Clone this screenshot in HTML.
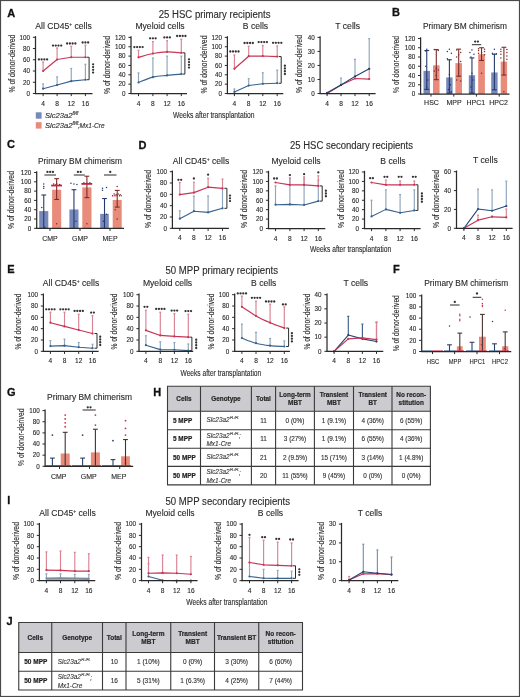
<!DOCTYPE html>
<html><head><meta charset="utf-8"><title>Figure</title>
<style>
html,body{margin:0;padding:0;background:#fff;}
body{width:520px;height:697px;overflow:hidden;}
svg{display:block;filter:blur(0.3px);font-family:"Liberation Sans", sans-serif;fill:#2a2a2a;}
text:not([stroke]){stroke:#2a2a2a;stroke-width:0.12px;}
</style></head><body>
<svg width="520" height="697" viewBox="0 0 520 697">
<rect x="0.5" y="0.5" width="519" height="696" fill="none" stroke="#4a4a4a" stroke-width="1.2"/>
<text x="7.2" y="16.6" font-size="11" font-weight="bold" fill="#111" stroke="#111" stroke-width="0.3">A</text>
<text x="392.1" y="16.3" font-size="11" font-weight="bold" fill="#111" stroke="#111" stroke-width="0.3">B</text>
<text x="7" y="148.4" font-size="11" font-weight="bold" fill="#111" stroke="#111" stroke-width="0.3">C</text>
<text x="138.4" y="148.5" font-size="11" font-weight="bold" fill="#111" stroke="#111" stroke-width="0.3">D</text>
<text x="7.2" y="272.7" font-size="11" font-weight="bold" fill="#111" stroke="#111" stroke-width="0.3">E</text>
<text x="393" y="272.6" font-size="11" font-weight="bold" fill="#111" stroke="#111" stroke-width="0.3">F</text>
<text x="7" y="395.5" font-size="11" font-weight="bold" fill="#111" stroke="#111" stroke-width="0.3">G</text>
<text x="153.2" y="396.2" font-size="11" font-weight="bold" fill="#111" stroke="#111" stroke-width="0.3">H</text>
<text x="7.2" y="504.2" font-size="11" font-weight="bold" fill="#111" stroke="#111" stroke-width="0.3">I</text>
<text x="6.6" y="625.4" font-size="11" font-weight="bold" fill="#111" stroke="#111" stroke-width="0.3">J</text>
<text x="158.75" y="17.8" font-size="10" textLength="111.75" lengthAdjust="spacingAndGlyphs">25 HSC primary recipients</text>
<text x="173" y="118.3" font-size="8.6" textLength="81.5" lengthAdjust="spacingAndGlyphs">Weeks after transplantation</text>
<text x="290" y="148.9" font-size="10" textLength="123" lengthAdjust="spacingAndGlyphs">25 HSC secondary recipients</text>
<text x="310" y="252" font-size="8.6" textLength="81.25" lengthAdjust="spacingAndGlyphs">Weeks after transplantation</text>
<text x="165.5" y="274.1" font-size="10" textLength="112.5" lengthAdjust="spacingAndGlyphs">50 MPP primary recipients</text>
<text x="180.5" y="375.8" font-size="8.6" textLength="80.75" lengthAdjust="spacingAndGlyphs">Weeks after transplantation</text>
<text x="165.5" y="504.6" font-size="10" textLength="124.5" lengthAdjust="spacingAndGlyphs">50 MPP secondary recipients</text>
<text x="186.25" y="604.5" font-size="8.6" textLength="81.25" lengthAdjust="spacingAndGlyphs">Weeks after transplantation</text>
<rect x="35.8" y="112.3" width="5.8" height="6.4" fill="#7788bb"/>
<rect x="35.8" y="122.2" width="5.8" height="6.4" fill="#e98b7b"/>
<text x="45" y="118.3" font-size="7.6" font-style="italic">Slc23a2<tspan font-size="4.6" dy="-3.2">fl/fl</tspan></text>
<text x="45" y="128" font-size="7.6" font-style="italic">Slc23a2<tspan font-size="4.6" dy="-3.2">fl/fl</tspan></text>
<text x="77.7" y="128" font-size="7.6" font-style="italic" textLength="27" lengthAdjust="spacingAndGlyphs">;Mx1-Cre</text>
<line x1="43.1" y1="88.72" x2="43.1" y2="83.95" stroke="#8fa5bb" stroke-width="1.15"/>
<line x1="42.1" y1="83.95" x2="44.1" y2="83.95" stroke="#8fa5bb" stroke-width="1.2"/>
<line x1="57.1" y1="85.07" x2="57.1" y2="76.92" stroke="#8fa5bb" stroke-width="1.15"/>
<line x1="56.1" y1="76.92" x2="58.1" y2="76.92" stroke="#8fa5bb" stroke-width="1.2"/>
<line x1="71.25" y1="81.14" x2="71.25" y2="68.49" stroke="#8fa5bb" stroke-width="1.15"/>
<line x1="70.25" y1="68.49" x2="72.25" y2="68.49" stroke="#8fa5bb" stroke-width="1.2"/>
<line x1="85.4" y1="79.73" x2="85.4" y2="64.28" stroke="#8fa5bb" stroke-width="1.15"/>
<line x1="84.4" y1="64.28" x2="86.4" y2="64.28" stroke="#8fa5bb" stroke-width="1.2"/>
<line x1="43.1" y1="71.02" x2="43.1" y2="62.03" stroke="#d98393" stroke-width="1.15"/>
<line x1="42.1" y1="62.03" x2="44.1" y2="62.03" stroke="#d98393" stroke-width="1.2"/>
<line x1="57.1" y1="59.5" x2="57.1" y2="47.98" stroke="#d98393" stroke-width="1.15"/>
<line x1="56.1" y1="47.98" x2="58.1" y2="47.98" stroke="#d98393" stroke-width="1.2"/>
<line x1="71.25" y1="57.25" x2="71.25" y2="46.29" stroke="#d98393" stroke-width="1.15"/>
<line x1="70.25" y1="46.29" x2="72.25" y2="46.29" stroke="#d98393" stroke-width="1.2"/>
<line x1="85.4" y1="57.25" x2="85.4" y2="45.17" stroke="#d98393" stroke-width="1.15"/>
<line x1="84.4" y1="45.17" x2="86.4" y2="45.17" stroke="#d98393" stroke-width="1.2"/>
<path d="M43.1 88.72 L57.1 85.07 L71.25 81.14 L85.4 79.73" fill="none" stroke="#39628c" stroke-width="1.1" stroke-linejoin="round"/>
<circle cx="43.1" cy="88.72" r="1.1" fill="#39628c"/>
<circle cx="57.1" cy="85.07" r="1.1" fill="#39628c"/>
<circle cx="71.25" cy="81.14" r="1.1" fill="#39628c"/>
<circle cx="85.4" cy="79.73" r="1.1" fill="#39628c"/>
<path d="M43.1 71.02 L57.1 59.5 L71.25 57.25 L85.4 57.25" fill="none" stroke="#c83556" stroke-width="1.2" stroke-linejoin="round"/>
<circle cx="43.1" cy="71.02" r="1.1" fill="#c83556"/>
<circle cx="57.1" cy="59.5" r="1.1" fill="#c83556"/>
<circle cx="71.25" cy="57.25" r="1.1" fill="#c83556"/>
<circle cx="85.4" cy="57.25" r="1.1" fill="#c83556"/>
<line x1="35.5" y1="36.1" x2="35.5" y2="94.1" stroke="#2a2a2a" stroke-width="1.25"/>
<line x1="34.9" y1="93.5" x2="92.5" y2="93.5" stroke="#2a2a2a" stroke-width="1.25"/>
<line x1="32.9" y1="93.5" x2="35.5" y2="93.5" stroke="#2a2a2a" stroke-width="1"/>
<text x="30.1" y="95.75" font-size="6.3" text-anchor="end">0</text>
<line x1="32.9" y1="82.26" x2="35.5" y2="82.26" stroke="#2a2a2a" stroke-width="1"/>
<text x="30.1" y="84.51" font-size="6.3" text-anchor="end">20</text>
<line x1="32.9" y1="71.02" x2="35.5" y2="71.02" stroke="#2a2a2a" stroke-width="1"/>
<text x="30.1" y="73.27" font-size="6.3" text-anchor="end">40</text>
<line x1="32.9" y1="59.78" x2="35.5" y2="59.78" stroke="#2a2a2a" stroke-width="1"/>
<text x="30.1" y="62.03" font-size="6.3" text-anchor="end">60</text>
<line x1="32.9" y1="48.54" x2="35.5" y2="48.54" stroke="#2a2a2a" stroke-width="1"/>
<text x="30.1" y="50.79" font-size="6.3" text-anchor="end">80</text>
<line x1="32.9" y1="37.3" x2="35.5" y2="37.3" stroke="#2a2a2a" stroke-width="1"/>
<text x="30.1" y="39.55" font-size="6.3" text-anchor="end">100</text>
<line x1="43.1" y1="93.5" x2="43.1" y2="96.1" stroke="#2a2a2a" stroke-width="1"/>
<text x="43.1" y="105.5" font-size="6.6" text-anchor="middle">4</text>
<line x1="57.1" y1="93.5" x2="57.1" y2="96.1" stroke="#2a2a2a" stroke-width="1"/>
<text x="57.1" y="105.5" font-size="6.6" text-anchor="middle">8</text>
<line x1="71.25" y1="93.5" x2="71.25" y2="96.1" stroke="#2a2a2a" stroke-width="1"/>
<text x="71.25" y="105.5" font-size="6.6" text-anchor="middle">12</text>
<line x1="85.4" y1="93.5" x2="85.4" y2="96.1" stroke="#2a2a2a" stroke-width="1"/>
<text x="85.4" y="105.5" font-size="6.6" text-anchor="middle">16</text>
<circle cx="38.88" cy="59.4" r="1.15" fill="#333"/>
<circle cx="41.62" cy="59.4" r="1.15" fill="#333"/>
<circle cx="44.38" cy="59.4" r="1.15" fill="#333"/>
<circle cx="47.12" cy="59.4" r="1.15" fill="#333"/>
<circle cx="52.98" cy="45.6" r="1.15" fill="#333"/>
<circle cx="55.73" cy="45.6" r="1.15" fill="#333"/>
<circle cx="58.48" cy="45.6" r="1.15" fill="#333"/>
<circle cx="61.23" cy="45.6" r="1.15" fill="#333"/>
<circle cx="67.12" cy="43.5" r="1.15" fill="#333"/>
<circle cx="69.88" cy="43.5" r="1.15" fill="#333"/>
<circle cx="72.62" cy="43.5" r="1.15" fill="#333"/>
<circle cx="75.38" cy="43.5" r="1.15" fill="#333"/>
<circle cx="82.65" cy="42.5" r="1.15" fill="#333"/>
<circle cx="85.4" cy="42.5" r="1.15" fill="#333"/>
<circle cx="88.15" cy="42.5" r="1.15" fill="#333"/>
<line x1="89.1" y1="57.25" x2="89.1" y2="79.73" stroke="#2a2a2a" stroke-width="1"/>
<line x1="86.6" y1="57.25" x2="89.1" y2="57.25" stroke="#2a2a2a" stroke-width="1"/>
<line x1="86.6" y1="79.73" x2="89.1" y2="79.73" stroke="#2a2a2a" stroke-width="1"/>
<circle cx="93.1" cy="64.37" r="1.15" fill="#333"/>
<circle cx="93.1" cy="67.12" r="1.15" fill="#333"/>
<circle cx="93.1" cy="69.87" r="1.15" fill="#333"/>
<circle cx="93.1" cy="72.62" r="1.15" fill="#333"/>
<text x="63.5" y="29.3" font-size="8.6" text-anchor="middle">All CD45<tspan font-size="5" dy="-3">+</tspan><tspan dy="3"> cells</tspan></text>
<text x="14.6" y="63.6" font-size="9" text-anchor="middle" textLength="58" lengthAdjust="spacingAndGlyphs" transform="rotate(-90 14.6 63.6)">% of donor-derived</text>
<line x1="138.5" y1="82.51" x2="138.5" y2="72.93" stroke="#8fa5bb" stroke-width="1.15"/>
<line x1="137.5" y1="72.93" x2="139.5" y2="72.93" stroke="#8fa5bb" stroke-width="1.2"/>
<line x1="152.9" y1="77.14" x2="152.9" y2="57.97" stroke="#8fa5bb" stroke-width="1.15"/>
<line x1="151.9" y1="57.97" x2="153.9" y2="57.97" stroke="#8fa5bb" stroke-width="1.2"/>
<line x1="167.1" y1="75.41" x2="167.1" y2="56.1" stroke="#8fa5bb" stroke-width="1.15"/>
<line x1="166.1" y1="56.1" x2="168.1" y2="56.1" stroke="#8fa5bb" stroke-width="1.2"/>
<line x1="181.3" y1="74.1" x2="181.3" y2="56.1" stroke="#8fa5bb" stroke-width="1.15"/>
<line x1="180.3" y1="56.1" x2="182.3" y2="56.1" stroke="#8fa5bb" stroke-width="1.2"/>
<line x1="138.5" y1="57.32" x2="138.5" y2="50.21" stroke="#d98393" stroke-width="1.15"/>
<line x1="137.5" y1="50.21" x2="139.5" y2="50.21" stroke="#d98393" stroke-width="1.2"/>
<line x1="152.9" y1="53.53" x2="152.9" y2="41.61" stroke="#d98393" stroke-width="1.15"/>
<line x1="151.9" y1="41.61" x2="153.9" y2="41.61" stroke="#d98393" stroke-width="1.2"/>
<line x1="167.1" y1="51.89" x2="167.1" y2="40.67" stroke="#d98393" stroke-width="1.15"/>
<line x1="166.1" y1="40.67" x2="168.1" y2="40.67" stroke="#d98393" stroke-width="1.2"/>
<line x1="181.3" y1="52.83" x2="181.3" y2="39.27" stroke="#d98393" stroke-width="1.15"/>
<line x1="180.3" y1="39.27" x2="182.3" y2="39.27" stroke="#d98393" stroke-width="1.2"/>
<path d="M138.5 82.51 C140.9 81.62 148.13 78.32 152.9 77.14 C157.67 75.95 162.37 75.91 167.1 75.41 C171.83 74.9 178.93 74.32 181.3 74.1" fill="none" stroke="#39628c" stroke-width="1.1" stroke-linejoin="round"/>
<circle cx="138.5" cy="82.51" r="1.1" fill="#39628c"/>
<circle cx="152.9" cy="77.14" r="1.1" fill="#39628c"/>
<circle cx="167.1" cy="75.41" r="1.1" fill="#39628c"/>
<circle cx="181.3" cy="74.1" r="1.1" fill="#39628c"/>
<path d="M138.5 57.32 C140.9 56.68 148.13 54.43 152.9 53.53 C157.67 52.62 162.37 52.01 167.1 51.89 C171.83 51.78 178.93 52.67 181.3 52.83" fill="none" stroke="#c83556" stroke-width="1.2" stroke-linejoin="round"/>
<circle cx="138.5" cy="57.32" r="1.1" fill="#c83556"/>
<circle cx="152.9" cy="53.53" r="1.1" fill="#c83556"/>
<circle cx="167.1" cy="51.89" r="1.1" fill="#c83556"/>
<circle cx="181.3" cy="52.83" r="1.1" fill="#c83556"/>
<line x1="131" y1="36.2" x2="131" y2="94.1" stroke="#2a2a2a" stroke-width="1.25"/>
<line x1="130.4" y1="93.5" x2="187" y2="93.5" stroke="#2a2a2a" stroke-width="1.25"/>
<line x1="128.4" y1="93.5" x2="131" y2="93.5" stroke="#2a2a2a" stroke-width="1"/>
<text x="125.6" y="95.75" font-size="6.3" text-anchor="end">0</text>
<line x1="128.4" y1="84.15" x2="131" y2="84.15" stroke="#2a2a2a" stroke-width="1"/>
<text x="125.6" y="86.4" font-size="6.3" text-anchor="end">20</text>
<line x1="128.4" y1="74.8" x2="131" y2="74.8" stroke="#2a2a2a" stroke-width="1"/>
<text x="125.6" y="77.05" font-size="6.3" text-anchor="end">40</text>
<line x1="128.4" y1="65.45" x2="131" y2="65.45" stroke="#2a2a2a" stroke-width="1"/>
<text x="125.6" y="67.7" font-size="6.3" text-anchor="end">60</text>
<line x1="128.4" y1="56.1" x2="131" y2="56.1" stroke="#2a2a2a" stroke-width="1"/>
<text x="125.6" y="58.35" font-size="6.3" text-anchor="end">80</text>
<line x1="128.4" y1="46.75" x2="131" y2="46.75" stroke="#2a2a2a" stroke-width="1"/>
<text x="125.6" y="49" font-size="6.3" text-anchor="end">100</text>
<line x1="128.4" y1="37.4" x2="131" y2="37.4" stroke="#2a2a2a" stroke-width="1"/>
<text x="125.6" y="39.65" font-size="6.3" text-anchor="end">120</text>
<line x1="138.5" y1="93.5" x2="138.5" y2="96.1" stroke="#2a2a2a" stroke-width="1"/>
<text x="138.5" y="105.5" font-size="6.6" text-anchor="middle">4</text>
<line x1="152.9" y1="93.5" x2="152.9" y2="96.1" stroke="#2a2a2a" stroke-width="1"/>
<text x="152.9" y="105.5" font-size="6.6" text-anchor="middle">8</text>
<line x1="167.1" y1="93.5" x2="167.1" y2="96.1" stroke="#2a2a2a" stroke-width="1"/>
<text x="167.1" y="105.5" font-size="6.6" text-anchor="middle">12</text>
<line x1="181.3" y1="93.5" x2="181.3" y2="96.1" stroke="#2a2a2a" stroke-width="1"/>
<text x="181.3" y="105.5" font-size="6.6" text-anchor="middle">16</text>
<circle cx="134.38" cy="47.1" r="1.15" fill="#333"/>
<circle cx="137.12" cy="47.1" r="1.15" fill="#333"/>
<circle cx="139.88" cy="47.1" r="1.15" fill="#333"/>
<circle cx="142.62" cy="47.1" r="1.15" fill="#333"/>
<circle cx="150.15" cy="38.3" r="1.15" fill="#333"/>
<circle cx="152.9" cy="38.3" r="1.15" fill="#333"/>
<circle cx="155.65" cy="38.3" r="1.15" fill="#333"/>
<circle cx="164.35" cy="37.4" r="1.15" fill="#333"/>
<circle cx="167.1" cy="37.4" r="1.15" fill="#333"/>
<circle cx="169.85" cy="37.4" r="1.15" fill="#333"/>
<circle cx="177.18" cy="36" r="1.15" fill="#333"/>
<circle cx="179.93" cy="36" r="1.15" fill="#333"/>
<circle cx="182.68" cy="36" r="1.15" fill="#333"/>
<circle cx="185.43" cy="36" r="1.15" fill="#333"/>
<line x1="184.9" y1="52.83" x2="184.9" y2="74.1" stroke="#2a2a2a" stroke-width="1"/>
<line x1="182.4" y1="52.83" x2="184.9" y2="52.83" stroke="#2a2a2a" stroke-width="1"/>
<line x1="182.4" y1="74.1" x2="184.9" y2="74.1" stroke="#2a2a2a" stroke-width="1"/>
<circle cx="189" cy="59.34" r="1.15" fill="#333"/>
<circle cx="189" cy="62.09" r="1.15" fill="#333"/>
<circle cx="189" cy="64.84" r="1.15" fill="#333"/>
<circle cx="189" cy="67.59" r="1.15" fill="#333"/>
<text x="160" y="29.3" font-size="8.6" text-anchor="middle">Myeloid cells</text>
<text x="110.1" y="65" font-size="9" text-anchor="middle" textLength="58" lengthAdjust="spacingAndGlyphs" transform="rotate(-90 110.1 65)">% of donor-derived</text>
<line x1="234.4" y1="91.91" x2="234.4" y2="89.01" stroke="#8fa5bb" stroke-width="1.15"/>
<line x1="233.4" y1="89.01" x2="235.4" y2="89.01" stroke="#8fa5bb" stroke-width="1.2"/>
<line x1="248.7" y1="85.55" x2="248.7" y2="78.68" stroke="#8fa5bb" stroke-width="1.15"/>
<line x1="247.7" y1="78.68" x2="249.7" y2="78.68" stroke="#8fa5bb" stroke-width="1.2"/>
<line x1="262.8" y1="83.78" x2="262.8" y2="72.79" stroke="#8fa5bb" stroke-width="1.15"/>
<line x1="261.8" y1="72.79" x2="263.8" y2="72.79" stroke="#8fa5bb" stroke-width="1.2"/>
<line x1="277.2" y1="83.22" x2="277.2" y2="70.12" stroke="#8fa5bb" stroke-width="1.15"/>
<line x1="276.2" y1="70.12" x2="278.2" y2="70.12" stroke="#8fa5bb" stroke-width="1.2"/>
<line x1="234.4" y1="68.82" x2="234.4" y2="54.88" stroke="#d98393" stroke-width="1.15"/>
<line x1="233.4" y1="54.88" x2="235.4" y2="54.88" stroke="#d98393" stroke-width="1.2"/>
<line x1="248.7" y1="56.19" x2="248.7" y2="46.28" stroke="#d98393" stroke-width="1.15"/>
<line x1="247.7" y1="46.28" x2="249.7" y2="46.28" stroke="#d98393" stroke-width="1.2"/>
<line x1="262.8" y1="56.01" x2="262.8" y2="45.49" stroke="#d98393" stroke-width="1.15"/>
<line x1="261.8" y1="45.49" x2="263.8" y2="45.49" stroke="#d98393" stroke-width="1.2"/>
<line x1="277.2" y1="56.57" x2="277.2" y2="45.91" stroke="#d98393" stroke-width="1.15"/>
<line x1="276.2" y1="45.91" x2="278.2" y2="45.91" stroke="#d98393" stroke-width="1.2"/>
<path d="M234.4 91.91 L248.7 85.55 L262.8 83.78 L277.2 83.22" fill="none" stroke="#39628c" stroke-width="1.1" stroke-linejoin="round"/>
<circle cx="234.4" cy="91.91" r="1.1" fill="#39628c"/>
<circle cx="248.7" cy="85.55" r="1.1" fill="#39628c"/>
<circle cx="262.8" cy="83.78" r="1.1" fill="#39628c"/>
<circle cx="277.2" cy="83.22" r="1.1" fill="#39628c"/>
<path d="M234.4 68.82 L248.7 56.19 L262.8 56.01 L277.2 56.57" fill="none" stroke="#c83556" stroke-width="1.2" stroke-linejoin="round"/>
<circle cx="234.4" cy="68.82" r="1.1" fill="#c83556"/>
<circle cx="248.7" cy="56.19" r="1.1" fill="#c83556"/>
<circle cx="262.8" cy="56.01" r="1.1" fill="#c83556"/>
<circle cx="277.2" cy="56.57" r="1.1" fill="#c83556"/>
<line x1="227.4" y1="36.2" x2="227.4" y2="94.1" stroke="#2a2a2a" stroke-width="1.25"/>
<line x1="226.8" y1="93.5" x2="283.3" y2="93.5" stroke="#2a2a2a" stroke-width="1.25"/>
<line x1="224.8" y1="93.5" x2="227.4" y2="93.5" stroke="#2a2a2a" stroke-width="1"/>
<text x="222" y="95.75" font-size="6.3" text-anchor="end">0</text>
<line x1="224.8" y1="84.15" x2="227.4" y2="84.15" stroke="#2a2a2a" stroke-width="1"/>
<text x="222" y="86.4" font-size="6.3" text-anchor="end">20</text>
<line x1="224.8" y1="74.8" x2="227.4" y2="74.8" stroke="#2a2a2a" stroke-width="1"/>
<text x="222" y="77.05" font-size="6.3" text-anchor="end">40</text>
<line x1="224.8" y1="65.45" x2="227.4" y2="65.45" stroke="#2a2a2a" stroke-width="1"/>
<text x="222" y="67.7" font-size="6.3" text-anchor="end">60</text>
<line x1="224.8" y1="56.1" x2="227.4" y2="56.1" stroke="#2a2a2a" stroke-width="1"/>
<text x="222" y="58.35" font-size="6.3" text-anchor="end">80</text>
<line x1="224.8" y1="46.75" x2="227.4" y2="46.75" stroke="#2a2a2a" stroke-width="1"/>
<text x="222" y="49" font-size="6.3" text-anchor="end">100</text>
<line x1="224.8" y1="37.4" x2="227.4" y2="37.4" stroke="#2a2a2a" stroke-width="1"/>
<text x="222" y="39.65" font-size="6.3" text-anchor="end">120</text>
<line x1="234.4" y1="93.5" x2="234.4" y2="96.1" stroke="#2a2a2a" stroke-width="1"/>
<text x="234.4" y="105.5" font-size="6.6" text-anchor="middle">4</text>
<line x1="248.7" y1="93.5" x2="248.7" y2="96.1" stroke="#2a2a2a" stroke-width="1"/>
<text x="248.7" y="105.5" font-size="6.6" text-anchor="middle">8</text>
<line x1="262.8" y1="93.5" x2="262.8" y2="96.1" stroke="#2a2a2a" stroke-width="1"/>
<text x="262.8" y="105.5" font-size="6.6" text-anchor="middle">12</text>
<line x1="277.2" y1="93.5" x2="277.2" y2="96.1" stroke="#2a2a2a" stroke-width="1"/>
<text x="277.2" y="105.5" font-size="6.6" text-anchor="middle">16</text>
<circle cx="230.28" cy="51.5" r="1.15" fill="#333"/>
<circle cx="233.03" cy="51.5" r="1.15" fill="#333"/>
<circle cx="235.78" cy="51.5" r="1.15" fill="#333"/>
<circle cx="238.53" cy="51.5" r="1.15" fill="#333"/>
<circle cx="244.57" cy="43" r="1.15" fill="#333"/>
<circle cx="247.32" cy="43" r="1.15" fill="#333"/>
<circle cx="250.07" cy="43" r="1.15" fill="#333"/>
<circle cx="252.82" cy="43" r="1.15" fill="#333"/>
<circle cx="258.68" cy="42.1" r="1.15" fill="#333"/>
<circle cx="261.43" cy="42.1" r="1.15" fill="#333"/>
<circle cx="264.18" cy="42.1" r="1.15" fill="#333"/>
<circle cx="266.93" cy="42.1" r="1.15" fill="#333"/>
<circle cx="273.07" cy="42.8" r="1.15" fill="#333"/>
<circle cx="275.82" cy="42.8" r="1.15" fill="#333"/>
<circle cx="278.57" cy="42.8" r="1.15" fill="#333"/>
<circle cx="281.32" cy="42.8" r="1.15" fill="#333"/>
<line x1="281.2" y1="56.57" x2="281.2" y2="83.22" stroke="#2a2a2a" stroke-width="1"/>
<line x1="278.7" y1="56.57" x2="281.2" y2="56.57" stroke="#2a2a2a" stroke-width="1"/>
<line x1="278.7" y1="83.22" x2="281.2" y2="83.22" stroke="#2a2a2a" stroke-width="1"/>
<circle cx="284.9" cy="65.77" r="1.15" fill="#333"/>
<circle cx="284.9" cy="68.52" r="1.15" fill="#333"/>
<circle cx="284.9" cy="71.27" r="1.15" fill="#333"/>
<circle cx="284.9" cy="74.02" r="1.15" fill="#333"/>
<text x="255.5" y="29.3" font-size="8.6" text-anchor="middle">B cells</text>
<text x="206.85" y="64.5" font-size="9" text-anchor="middle" textLength="58" lengthAdjust="spacingAndGlyphs" transform="rotate(-90 206.85 64.5)">% of donor-derived</text>
<line x1="341" y1="84.94" x2="341" y2="78.21" stroke="#8fa5bb" stroke-width="1.15"/>
<line x1="340" y1="78.21" x2="342" y2="78.21" stroke="#8fa5bb" stroke-width="1.2"/>
<line x1="355" y1="76.39" x2="355" y2="59.28" stroke="#8fa5bb" stroke-width="1.15"/>
<line x1="354" y1="59.28" x2="356" y2="59.28" stroke="#8fa5bb" stroke-width="1.2"/>
<line x1="369.2" y1="68.82" x2="369.2" y2="38.66" stroke="#8fa5bb" stroke-width="1.15"/>
<line x1="368.2" y1="38.66" x2="370.2" y2="38.66" stroke="#8fa5bb" stroke-width="1.2"/>
<line x1="369.2" y1="79.05" x2="369.2" y2="68.82" stroke="#d98393" stroke-width="1.15"/>
<line x1="368.2" y1="68.82" x2="370.2" y2="68.82" stroke="#d98393" stroke-width="1.2"/>
<path d="M327.1 93.5 L341 85.08 L355 78.49 L369.2 79.05" fill="none" stroke="#c83556" stroke-width="1.2" stroke-linejoin="round"/>
<circle cx="327.1" cy="93.5" r="1.1" fill="#c83556"/>
<circle cx="341" cy="85.08" r="1.1" fill="#c83556"/>
<circle cx="355" cy="78.49" r="1.1" fill="#c83556"/>
<circle cx="369.2" cy="79.05" r="1.1" fill="#c83556"/>
<path d="M327.1 92.8 L341 84.94 L355 76.39 L369.2 68.82" fill="none" stroke="#223f6e" stroke-width="1.1" stroke-linejoin="round"/>
<circle cx="327.1" cy="92.8" r="1.1" fill="#223f6e"/>
<circle cx="341" cy="84.94" r="1.1" fill="#223f6e"/>
<circle cx="355" cy="76.39" r="1.1" fill="#223f6e"/>
<circle cx="369.2" cy="68.82" r="1.1" fill="#223f6e"/>
<line x1="320.1" y1="36.2" x2="320.1" y2="94.1" stroke="#2a2a2a" stroke-width="1.25"/>
<line x1="319.5" y1="93.5" x2="375.6" y2="93.5" stroke="#2a2a2a" stroke-width="1.25"/>
<line x1="317.5" y1="93.5" x2="320.1" y2="93.5" stroke="#2a2a2a" stroke-width="1"/>
<text x="314.7" y="95.75" font-size="6.3" text-anchor="end">0</text>
<line x1="317.5" y1="79.47" x2="320.1" y2="79.47" stroke="#2a2a2a" stroke-width="1"/>
<text x="314.7" y="81.72" font-size="6.3" text-anchor="end">10</text>
<line x1="317.5" y1="65.45" x2="320.1" y2="65.45" stroke="#2a2a2a" stroke-width="1"/>
<text x="314.7" y="67.7" font-size="6.3" text-anchor="end">20</text>
<line x1="317.5" y1="51.42" x2="320.1" y2="51.42" stroke="#2a2a2a" stroke-width="1"/>
<text x="314.7" y="53.67" font-size="6.3" text-anchor="end">30</text>
<line x1="317.5" y1="37.4" x2="320.1" y2="37.4" stroke="#2a2a2a" stroke-width="1"/>
<text x="314.7" y="39.65" font-size="6.3" text-anchor="end">40</text>
<line x1="327.1" y1="93.5" x2="327.1" y2="96.1" stroke="#2a2a2a" stroke-width="1"/>
<text x="327.1" y="105.5" font-size="6.6" text-anchor="middle">4</text>
<line x1="341" y1="93.5" x2="341" y2="96.1" stroke="#2a2a2a" stroke-width="1"/>
<text x="341" y="105.5" font-size="6.6" text-anchor="middle">8</text>
<line x1="355" y1="93.5" x2="355" y2="96.1" stroke="#2a2a2a" stroke-width="1"/>
<text x="355" y="105.5" font-size="6.6" text-anchor="middle">12</text>
<line x1="369.2" y1="93.5" x2="369.2" y2="96.1" stroke="#2a2a2a" stroke-width="1"/>
<text x="369.2" y="105.5" font-size="6.6" text-anchor="middle">16</text>
<text x="347.7" y="29.3" font-size="8.6" text-anchor="middle">T cells</text>
<text x="301.8" y="64" font-size="9" text-anchor="middle" textLength="58" lengthAdjust="spacingAndGlyphs" transform="rotate(-90 301.8 64)">% of donor-derived</text>
<rect x="423.5" y="70.88" width="6.5" height="23.12" fill="#7788bb"/>
<circle cx="426.75" cy="49.14" r="0.75" fill="#25396a"/>
<circle cx="425.75" cy="50.99" r="0.75" fill="#25396a"/>
<circle cx="427.75" cy="80.12" r="0.75" fill="#25396a"/>
<circle cx="426.75" cy="87.06" r="0.75" fill="#25396a"/>
<circle cx="425.75" cy="66.25" r="0.75" fill="#25396a"/>
<line x1="426.75" y1="89.38" x2="426.75" y2="50.52" stroke="#25396a" stroke-width="1.1"/>
<line x1="424.35" y1="50.52" x2="429.15" y2="50.52" stroke="#25396a" stroke-width="1.1"/>
<line x1="424.35" y1="89.38" x2="429.15" y2="89.38" stroke="#25396a" stroke-width="1.1"/>
<rect x="433" y="65.33" width="6.6" height="28.68" fill="#e98b7b"/>
<circle cx="434.3" cy="49.6" r="0.75" fill="#7c2b2b"/>
<circle cx="438.3" cy="50.52" r="0.75" fill="#7c2b2b"/>
<circle cx="436.3" cy="68.56" r="0.75" fill="#7c2b2b"/>
<circle cx="434.3" cy="70.88" r="0.75" fill="#7c2b2b"/>
<circle cx="438.3" cy="69.95" r="0.75" fill="#7c2b2b"/>
<circle cx="436.3" cy="75.5" r="0.75" fill="#7c2b2b"/>
<line x1="436.3" y1="79.66" x2="436.3" y2="49.6" stroke="#7c2b2b" stroke-width="1.1"/>
<line x1="433.9" y1="49.6" x2="438.7" y2="49.6" stroke="#7c2b2b" stroke-width="1.1"/>
<line x1="433.9" y1="79.66" x2="438.7" y2="79.66" stroke="#7c2b2b" stroke-width="1.1"/>
<rect x="446.2" y="77.44" width="6.4" height="16.56" fill="#7788bb"/>
<circle cx="449.4" cy="49.14" r="0.75" fill="#25396a"/>
<circle cx="447.4" cy="51.45" r="0.75" fill="#25396a"/>
<circle cx="451.4" cy="53.3" r="0.75" fill="#25396a"/>
<circle cx="447.4" cy="58.85" r="0.75" fill="#25396a"/>
<circle cx="449.4" cy="74.58" r="0.75" fill="#25396a"/>
<circle cx="450.4" cy="84.75" r="0.75" fill="#25396a"/>
<circle cx="448.4" cy="89.38" r="0.75" fill="#25396a"/>
<circle cx="451.4" cy="91.69" r="0.75" fill="#25396a"/>
<line x1="449.4" y1="93.08" x2="449.4" y2="59.77" stroke="#25396a" stroke-width="1.1"/>
<line x1="447" y1="59.77" x2="451.8" y2="59.77" stroke="#25396a" stroke-width="1.1"/>
<line x1="447" y1="93.08" x2="451.8" y2="93.08" stroke="#25396a" stroke-width="1.1"/>
<rect x="455.4" y="63.15" width="6.6" height="30.85" fill="#e98b7b"/>
<circle cx="456.7" cy="50.06" r="0.75" fill="#7c2b2b"/>
<circle cx="460.7" cy="52.38" r="0.75" fill="#7c2b2b"/>
<circle cx="458.7" cy="54.69" r="0.75" fill="#7c2b2b"/>
<circle cx="456.7" cy="57" r="0.75" fill="#7c2b2b"/>
<circle cx="460.7" cy="61.62" r="0.75" fill="#7c2b2b"/>
<circle cx="456.7" cy="80.12" r="0.75" fill="#7c2b2b"/>
<circle cx="460.7" cy="81.05" r="0.75" fill="#7c2b2b"/>
<line x1="458.7" y1="76.19" x2="458.7" y2="49.14" stroke="#7c2b2b" stroke-width="1.1"/>
<line x1="456.3" y1="49.14" x2="461.1" y2="49.14" stroke="#7c2b2b" stroke-width="1.1"/>
<line x1="456.3" y1="76.19" x2="461.1" y2="76.19" stroke="#7c2b2b" stroke-width="1.1"/>
<rect x="468.8" y="75.27" width="6.3" height="18.73" fill="#7788bb"/>
<circle cx="471.95" cy="50.06" r="0.75" fill="#25396a"/>
<circle cx="469.95" cy="52.38" r="0.75" fill="#25396a"/>
<circle cx="473.95" cy="54.23" r="0.75" fill="#25396a"/>
<circle cx="470.95" cy="57" r="0.75" fill="#25396a"/>
<circle cx="471.95" cy="73.19" r="0.75" fill="#25396a"/>
<circle cx="472.95" cy="80.12" r="0.75" fill="#25396a"/>
<circle cx="470.95" cy="87.06" r="0.75" fill="#25396a"/>
<line x1="471.95" y1="93.08" x2="471.95" y2="57.92" stroke="#25396a" stroke-width="1.1"/>
<line x1="469.55" y1="57.92" x2="474.35" y2="57.92" stroke="#25396a" stroke-width="1.1"/>
<line x1="469.55" y1="93.08" x2="474.35" y2="93.08" stroke="#25396a" stroke-width="1.1"/>
<rect x="478.2" y="54.23" width="6.7" height="39.77" fill="#e98b7b"/>
<circle cx="478.55" cy="48.67" r="0.75" fill="#7c2b2b"/>
<circle cx="484.55" cy="49.14" r="0.75" fill="#7c2b2b"/>
<circle cx="478.55" cy="50.52" r="0.75" fill="#7c2b2b"/>
<circle cx="484.55" cy="51.45" r="0.75" fill="#7c2b2b"/>
<circle cx="481.55" cy="52.38" r="0.75" fill="#7c2b2b"/>
<circle cx="478.55" cy="53.3" r="0.75" fill="#7c2b2b"/>
<circle cx="484.55" cy="54.69" r="0.75" fill="#7c2b2b"/>
<circle cx="481.55" cy="73.19" r="0.75" fill="#7c2b2b"/>
<line x1="481.55" y1="60.47" x2="481.55" y2="47.75" stroke="#7c2b2b" stroke-width="1.1"/>
<line x1="479.15" y1="47.75" x2="483.95" y2="47.75" stroke="#7c2b2b" stroke-width="1.1"/>
<line x1="479.15" y1="60.47" x2="483.95" y2="60.47" stroke="#7c2b2b" stroke-width="1.1"/>
<rect x="491.2" y="72.45" width="6.4" height="21.55" fill="#7788bb"/>
<circle cx="494.4" cy="49.14" r="0.75" fill="#25396a"/>
<circle cx="492.4" cy="53.3" r="0.75" fill="#25396a"/>
<circle cx="496.4" cy="53.76" r="0.75" fill="#25396a"/>
<circle cx="494.4" cy="54.23" r="0.75" fill="#25396a"/>
<line x1="494.4" y1="89.84" x2="494.4" y2="54.23" stroke="#25396a" stroke-width="1.1"/>
<line x1="492" y1="54.23" x2="496.8" y2="54.23" stroke="#25396a" stroke-width="1.1"/>
<line x1="492" y1="89.84" x2="496.8" y2="89.84" stroke="#25396a" stroke-width="1.1"/>
<rect x="500.7" y="61.62" width="6.4" height="32.38" fill="#e98b7b"/>
<circle cx="500.9" cy="49.14" r="0.75" fill="#7c2b2b"/>
<circle cx="506.9" cy="49.6" r="0.75" fill="#7c2b2b"/>
<circle cx="500.9" cy="51.45" r="0.75" fill="#7c2b2b"/>
<circle cx="506.9" cy="52.38" r="0.75" fill="#7c2b2b"/>
<circle cx="500.9" cy="54.23" r="0.75" fill="#7c2b2b"/>
<circle cx="506.9" cy="56.07" r="0.75" fill="#7c2b2b"/>
<circle cx="500.9" cy="57.92" r="0.75" fill="#7c2b2b"/>
<circle cx="506.9" cy="59.31" r="0.75" fill="#7c2b2b"/>
<circle cx="503.9" cy="91.69" r="0.75" fill="#7c2b2b"/>
<line x1="503.9" y1="75.04" x2="503.9" y2="47.29" stroke="#7c2b2b" stroke-width="1.1"/>
<line x1="501.5" y1="47.29" x2="506.3" y2="47.29" stroke="#7c2b2b" stroke-width="1.1"/>
<line x1="501.5" y1="75.04" x2="506.3" y2="75.04" stroke="#7c2b2b" stroke-width="1.1"/>
<line x1="420.6" y1="37.3" x2="420.6" y2="94.6" stroke="#2a2a2a" stroke-width="1.25"/>
<line x1="420" y1="94" x2="509.5" y2="94" stroke="#2a2a2a" stroke-width="1.25"/>
<line x1="418" y1="94" x2="420.6" y2="94" stroke="#2a2a2a" stroke-width="1"/>
<text x="415.2" y="96.25" font-size="6.3" text-anchor="end">0</text>
<line x1="418" y1="84.75" x2="420.6" y2="84.75" stroke="#2a2a2a" stroke-width="1"/>
<text x="415.2" y="87" font-size="6.3" text-anchor="end">20</text>
<line x1="418" y1="75.5" x2="420.6" y2="75.5" stroke="#2a2a2a" stroke-width="1"/>
<text x="415.2" y="77.75" font-size="6.3" text-anchor="end">40</text>
<line x1="418" y1="66.25" x2="420.6" y2="66.25" stroke="#2a2a2a" stroke-width="1"/>
<text x="415.2" y="68.5" font-size="6.3" text-anchor="end">60</text>
<line x1="418" y1="57" x2="420.6" y2="57" stroke="#2a2a2a" stroke-width="1"/>
<text x="415.2" y="59.25" font-size="6.3" text-anchor="end">80</text>
<line x1="418" y1="47.75" x2="420.6" y2="47.75" stroke="#2a2a2a" stroke-width="1"/>
<text x="415.2" y="50" font-size="6.3" text-anchor="end">100</text>
<line x1="418" y1="38.5" x2="420.6" y2="38.5" stroke="#2a2a2a" stroke-width="1"/>
<text x="415.2" y="40.75" font-size="6.3" text-anchor="end">120</text>
<line x1="431" y1="94" x2="431" y2="96.6" stroke="#2a2a2a" stroke-width="1"/>
<line x1="453.8" y1="94" x2="453.8" y2="96.6" stroke="#2a2a2a" stroke-width="1"/>
<line x1="476.4" y1="94" x2="476.4" y2="96.6" stroke="#2a2a2a" stroke-width="1"/>
<line x1="499.2" y1="94" x2="499.2" y2="96.6" stroke="#2a2a2a" stroke-width="1"/>
<text x="431.5" y="105.2" font-size="7" text-anchor="middle">HSC</text>
<text x="454" y="105.2" font-size="7" text-anchor="middle">MPP</text>
<text x="475.8" y="105.2" font-size="7" text-anchor="middle">HPC1</text>
<text x="498.5" y="105.2" font-size="7" text-anchor="middle">HPC2</text>
<line x1="471.9" y1="44.7" x2="481.2" y2="44.7" stroke="#2a2a2a" stroke-width="1"/>
<circle cx="475.17" cy="41.6" r="1.15" fill="#333"/>
<circle cx="477.92" cy="41.6" r="1.15" fill="#333"/>
<text x="465" y="28.6" font-size="8.6" text-anchor="middle" textLength="84" lengthAdjust="spacingAndGlyphs">Primary BM chimerism</text>
<text x="399.5" y="64.4" font-size="9" text-anchor="middle" textLength="57" lengthAdjust="spacingAndGlyphs" transform="rotate(-90 399.5 64.4)">% of donor-derived</text>
<rect x="39.2" y="211.09" width="9.1" height="17.21" fill="#7788bb"/>
<circle cx="43.75" cy="184.12" r="0.75" fill="#25396a"/>
<circle cx="43.75" cy="186.45" r="0.75" fill="#25396a"/>
<circle cx="43.75" cy="188.31" r="0.75" fill="#25396a"/>
<circle cx="41.75" cy="207.38" r="0.75" fill="#25396a"/>
<circle cx="44.75" cy="227.37" r="0.75" fill="#25396a"/>
<line x1="43.75" y1="228.3" x2="43.75" y2="195.01" stroke="#25396a" stroke-width="1.1"/>
<line x1="41.35" y1="195.01" x2="46.15" y2="195.01" stroke="#25396a" stroke-width="1.1"/>
<rect x="52.1" y="189.71" width="9.1" height="38.6" fill="#e98b7b"/>
<circle cx="53.65" cy="184.12" r="0.75" fill="#7c2b2b"/>
<circle cx="55.65" cy="185.06" r="0.75" fill="#7c2b2b"/>
<circle cx="59.65" cy="184.59" r="0.75" fill="#7c2b2b"/>
<circle cx="56.65" cy="183.66" r="0.75" fill="#7c2b2b"/>
<circle cx="56.65" cy="223.65" r="0.75" fill="#7c2b2b"/>
<line x1="56.65" y1="199.47" x2="56.65" y2="178.68" stroke="#7c2b2b" stroke-width="1.1"/>
<line x1="54.25" y1="178.68" x2="59.05" y2="178.68" stroke="#7c2b2b" stroke-width="1.1"/>
<line x1="54.25" y1="199.47" x2="59.05" y2="199.47" stroke="#7c2b2b" stroke-width="1.1"/>
<rect x="69.4" y="209.47" width="9.1" height="18.83" fill="#7788bb"/>
<circle cx="70.95" cy="183.19" r="0.75" fill="#25396a"/>
<circle cx="73.95" cy="184.12" r="0.75" fill="#25396a"/>
<circle cx="76.95" cy="184.59" r="0.75" fill="#25396a"/>
<circle cx="75.95" cy="221.33" r="0.75" fill="#25396a"/>
<line x1="73.95" y1="228.3" x2="73.95" y2="189.71" stroke="#25396a" stroke-width="1.1"/>
<line x1="71.55" y1="189.71" x2="76.35" y2="189.71" stroke="#25396a" stroke-width="1.1"/>
<rect x="82.3" y="187.38" width="9.2" height="40.92" fill="#e98b7b"/>
<circle cx="83.9" cy="182.73" r="0.75" fill="#7c2b2b"/>
<circle cx="86.9" cy="183.19" r="0.75" fill="#7c2b2b"/>
<circle cx="89.9" cy="182.73" r="0.75" fill="#7c2b2b"/>
<circle cx="86.9" cy="223.65" r="0.75" fill="#7c2b2b"/>
<line x1="86.9" y1="197.61" x2="86.9" y2="176.22" stroke="#7c2b2b" stroke-width="1.1"/>
<line x1="84.5" y1="176.22" x2="89.3" y2="176.22" stroke="#7c2b2b" stroke-width="1.1"/>
<line x1="84.5" y1="197.61" x2="89.3" y2="197.61" stroke="#7c2b2b" stroke-width="1.1"/>
<rect x="100.2" y="213.89" width="8.6" height="14.42" fill="#7788bb"/>
<circle cx="102.5" cy="188.31" r="0.75" fill="#25396a"/>
<circle cx="106.5" cy="187.38" r="0.75" fill="#25396a"/>
<circle cx="102.5" cy="190.17" r="0.75" fill="#25396a"/>
<circle cx="106.5" cy="214.35" r="0.75" fill="#25396a"/>
<circle cx="103.5" cy="221.33" r="0.75" fill="#25396a"/>
<line x1="104.5" y1="228.3" x2="104.5" y2="198.54" stroke="#25396a" stroke-width="1.1"/>
<line x1="102.1" y1="198.54" x2="106.9" y2="198.54" stroke="#25396a" stroke-width="1.1"/>
<rect x="112.7" y="199.94" width="9" height="28.37" fill="#e98b7b"/>
<circle cx="114.2" cy="193.89" r="0.75" fill="#7c2b2b"/>
<circle cx="116.2" cy="194.82" r="0.75" fill="#7c2b2b"/>
<circle cx="118.2" cy="193.89" r="0.75" fill="#7c2b2b"/>
<circle cx="120.2" cy="194.82" r="0.75" fill="#7c2b2b"/>
<circle cx="117.2" cy="186.45" r="0.75" fill="#7c2b2b"/>
<circle cx="115.2" cy="209.7" r="0.75" fill="#7c2b2b"/>
<circle cx="117.2" cy="219" r="0.75" fill="#7c2b2b"/>
<line x1="117.2" y1="207.1" x2="117.2" y2="190.4" stroke="#7c2b2b" stroke-width="1.1"/>
<line x1="114.8" y1="190.4" x2="119.6" y2="190.4" stroke="#7c2b2b" stroke-width="1.1"/>
<line x1="114.8" y1="207.1" x2="119.6" y2="207.1" stroke="#7c2b2b" stroke-width="1.1"/>
<line x1="51.2" y1="185.52" x2="62" y2="185.52" stroke="#c8203a" stroke-width="1.8"/>
<line x1="81.4" y1="183.89" x2="92.2" y2="183.89" stroke="#c8203a" stroke-width="1.8"/>
<line x1="112" y1="195.75" x2="122" y2="195.75" stroke="#c8203a" stroke-width="1.6" stroke-dasharray="1.3 1"/>
<line x1="36.7" y1="171.3" x2="36.7" y2="228.9" stroke="#2a2a2a" stroke-width="1.25"/>
<line x1="36.1" y1="228.3" x2="124" y2="228.3" stroke="#2a2a2a" stroke-width="1.25"/>
<line x1="34.1" y1="228.3" x2="36.7" y2="228.3" stroke="#2a2a2a" stroke-width="1"/>
<text x="31.3" y="230.55" font-size="6.3" text-anchor="end">0</text>
<line x1="34.1" y1="219" x2="36.7" y2="219" stroke="#2a2a2a" stroke-width="1"/>
<text x="31.3" y="221.25" font-size="6.3" text-anchor="end">20</text>
<line x1="34.1" y1="209.7" x2="36.7" y2="209.7" stroke="#2a2a2a" stroke-width="1"/>
<text x="31.3" y="211.95" font-size="6.3" text-anchor="end">40</text>
<line x1="34.1" y1="200.4" x2="36.7" y2="200.4" stroke="#2a2a2a" stroke-width="1"/>
<text x="31.3" y="202.65" font-size="6.3" text-anchor="end">60</text>
<line x1="34.1" y1="191.1" x2="36.7" y2="191.1" stroke="#2a2a2a" stroke-width="1"/>
<text x="31.3" y="193.35" font-size="6.3" text-anchor="end">80</text>
<line x1="34.1" y1="181.8" x2="36.7" y2="181.8" stroke="#2a2a2a" stroke-width="1"/>
<text x="31.3" y="184.05" font-size="6.3" text-anchor="end">100</text>
<line x1="34.1" y1="172.5" x2="36.7" y2="172.5" stroke="#2a2a2a" stroke-width="1"/>
<text x="31.3" y="174.75" font-size="6.3" text-anchor="end">120</text>
<line x1="50" y1="228.3" x2="50" y2="230.9" stroke="#2a2a2a" stroke-width="1"/>
<line x1="80" y1="228.3" x2="80" y2="230.9" stroke="#2a2a2a" stroke-width="1"/>
<line x1="110" y1="228.3" x2="110" y2="230.9" stroke="#2a2a2a" stroke-width="1"/>
<text x="50" y="241.3" font-size="7" text-anchor="middle">CMP</text>
<text x="80" y="241.3" font-size="7" text-anchor="middle">GMP</text>
<text x="110" y="241.3" font-size="7" text-anchor="middle">MEP</text>
<line x1="44.4" y1="175" x2="56" y2="175" stroke="#2a2a2a" stroke-width="1"/>
<circle cx="47.45" cy="171.9" r="1.15" fill="#333"/>
<circle cx="50.2" cy="171.9" r="1.15" fill="#333"/>
<circle cx="52.95" cy="171.9" r="1.15" fill="#333"/>
<line x1="73.8" y1="175" x2="84.8" y2="175" stroke="#2a2a2a" stroke-width="1"/>
<circle cx="77.92" cy="171.9" r="1.15" fill="#333"/>
<circle cx="80.67" cy="171.9" r="1.15" fill="#333"/>
<line x1="104" y1="175" x2="116.5" y2="175" stroke="#2a2a2a" stroke-width="1"/>
<circle cx="110.25" cy="171.9" r="1.15" fill="#333"/>
<text x="80" y="164" font-size="8.6" text-anchor="middle" textLength="84" lengthAdjust="spacingAndGlyphs">Primary BM chimerism</text>
<text x="14.35" y="200" font-size="9" text-anchor="middle" textLength="58" lengthAdjust="spacingAndGlyphs" transform="rotate(-90 14.35 200)">% of donor-derived</text>
<line x1="179.8" y1="218.68" x2="179.8" y2="210.75" stroke="#8fa5bb" stroke-width="1.15"/>
<line x1="178.8" y1="210.75" x2="180.8" y2="210.75" stroke="#8fa5bb" stroke-width="1.2"/>
<line x1="193.9" y1="211.21" x2="193.9" y2="196.04" stroke="#8fa5bb" stroke-width="1.15"/>
<line x1="192.9" y1="196.04" x2="194.9" y2="196.04" stroke="#8fa5bb" stroke-width="1.2"/>
<line x1="208.1" y1="212.4" x2="208.1" y2="196.04" stroke="#8fa5bb" stroke-width="1.15"/>
<line x1="207.1" y1="196.04" x2="209.1" y2="196.04" stroke="#8fa5bb" stroke-width="1.2"/>
<line x1="222.5" y1="208.32" x2="222.5" y2="188.68" stroke="#8fa5bb" stroke-width="1.15"/>
<line x1="221.5" y1="188.68" x2="223.5" y2="188.68" stroke="#8fa5bb" stroke-width="1.2"/>
<line x1="179.8" y1="194.62" x2="179.8" y2="182.45" stroke="#d98393" stroke-width="1.15"/>
<line x1="178.8" y1="182.45" x2="180.8" y2="182.45" stroke="#d98393" stroke-width="1.2"/>
<line x1="193.9" y1="192.64" x2="193.9" y2="182.23" stroke="#d98393" stroke-width="1.15"/>
<line x1="192.9" y1="182.23" x2="194.9" y2="182.23" stroke="#d98393" stroke-width="1.2"/>
<line x1="208.1" y1="187.21" x2="208.1" y2="178.21" stroke="#d98393" stroke-width="1.15"/>
<line x1="207.1" y1="178.21" x2="209.1" y2="178.21" stroke="#d98393" stroke-width="1.2"/>
<line x1="222.5" y1="188.28" x2="222.5" y2="179.06" stroke="#d98393" stroke-width="1.15"/>
<line x1="221.5" y1="179.06" x2="223.5" y2="179.06" stroke="#d98393" stroke-width="1.2"/>
<path d="M179.8 218.68 L193.9 211.21 L208.1 212.4 L222.5 208.32" fill="none" stroke="#39628c" stroke-width="1.1" stroke-linejoin="round"/>
<circle cx="179.8" cy="218.68" r="1.1" fill="#39628c"/>
<circle cx="193.9" cy="211.21" r="1.1" fill="#39628c"/>
<circle cx="208.1" cy="212.4" r="1.1" fill="#39628c"/>
<circle cx="222.5" cy="208.32" r="1.1" fill="#39628c"/>
<path d="M179.8 194.62 L193.9 192.64 L208.1 187.21 L222.5 188.28" fill="none" stroke="#c83556" stroke-width="1.2" stroke-linejoin="round"/>
<circle cx="179.8" cy="194.62" r="1.1" fill="#c83556"/>
<circle cx="193.9" cy="192.64" r="1.1" fill="#c83556"/>
<circle cx="208.1" cy="187.21" r="1.1" fill="#c83556"/>
<circle cx="222.5" cy="188.28" r="1.1" fill="#c83556"/>
<line x1="172.4" y1="170.5" x2="172.4" y2="228.9" stroke="#2a2a2a" stroke-width="1.25"/>
<line x1="171.8" y1="228.3" x2="228.9" y2="228.3" stroke="#2a2a2a" stroke-width="1.25"/>
<line x1="169.8" y1="228.3" x2="172.4" y2="228.3" stroke="#2a2a2a" stroke-width="1"/>
<text x="167" y="230.55" font-size="6.3" text-anchor="end">0</text>
<line x1="169.8" y1="216.98" x2="172.4" y2="216.98" stroke="#2a2a2a" stroke-width="1"/>
<text x="167" y="219.23" font-size="6.3" text-anchor="end">20</text>
<line x1="169.8" y1="205.66" x2="172.4" y2="205.66" stroke="#2a2a2a" stroke-width="1"/>
<text x="167" y="207.91" font-size="6.3" text-anchor="end">40</text>
<line x1="169.8" y1="194.34" x2="172.4" y2="194.34" stroke="#2a2a2a" stroke-width="1"/>
<text x="167" y="196.59" font-size="6.3" text-anchor="end">60</text>
<line x1="169.8" y1="183.02" x2="172.4" y2="183.02" stroke="#2a2a2a" stroke-width="1"/>
<text x="167" y="185.27" font-size="6.3" text-anchor="end">80</text>
<line x1="169.8" y1="171.7" x2="172.4" y2="171.7" stroke="#2a2a2a" stroke-width="1"/>
<text x="167" y="173.95" font-size="6.3" text-anchor="end">100</text>
<line x1="179.8" y1="228.3" x2="179.8" y2="230.9" stroke="#2a2a2a" stroke-width="1"/>
<text x="179.8" y="240.3" font-size="6.6" text-anchor="middle">4</text>
<line x1="193.9" y1="228.3" x2="193.9" y2="230.9" stroke="#2a2a2a" stroke-width="1"/>
<text x="193.9" y="240.3" font-size="6.6" text-anchor="middle">8</text>
<line x1="208.1" y1="228.3" x2="208.1" y2="230.9" stroke="#2a2a2a" stroke-width="1"/>
<text x="208.1" y="240.3" font-size="6.6" text-anchor="middle">12</text>
<line x1="222.5" y1="228.3" x2="222.5" y2="230.9" stroke="#2a2a2a" stroke-width="1"/>
<text x="222.5" y="240.3" font-size="6.6" text-anchor="middle">16</text>
<circle cx="178.43" cy="179.8" r="1.15" fill="#333"/>
<circle cx="181.18" cy="179.8" r="1.15" fill="#333"/>
<circle cx="193.9" cy="178.5" r="1.15" fill="#333"/>
<circle cx="208.1" cy="174.7" r="1.15" fill="#333"/>
<line x1="226.9" y1="188.28" x2="226.9" y2="208.32" stroke="#2a2a2a" stroke-width="1"/>
<line x1="224.4" y1="188.28" x2="226.9" y2="188.28" stroke="#2a2a2a" stroke-width="1"/>
<line x1="224.4" y1="208.32" x2="226.9" y2="208.32" stroke="#2a2a2a" stroke-width="1"/>
<circle cx="230" cy="195.55" r="1.15" fill="#333"/>
<circle cx="230" cy="198.3" r="1.15" fill="#333"/>
<circle cx="230" cy="201.05" r="1.15" fill="#333"/>
<text x="201" y="164" font-size="8.6" text-anchor="middle">All CD45<tspan font-size="5" dy="-3">+</tspan><tspan dy="3"> cells</tspan></text>
<text x="151.1" y="199" font-size="9" text-anchor="middle" textLength="58" lengthAdjust="spacingAndGlyphs" transform="rotate(-90 151.1 199)">% of donor-derived</text>
<line x1="275.5" y1="204.72" x2="275.5" y2="185.89" stroke="#8fa5bb" stroke-width="1.15"/>
<line x1="274.5" y1="185.89" x2="276.5" y2="185.89" stroke="#8fa5bb" stroke-width="1.2"/>
<line x1="289.9" y1="204.39" x2="289.9" y2="178.59" stroke="#8fa5bb" stroke-width="1.15"/>
<line x1="288.9" y1="178.59" x2="290.9" y2="178.59" stroke="#8fa5bb" stroke-width="1.2"/>
<line x1="304.1" y1="204.96" x2="304.1" y2="178.59" stroke="#8fa5bb" stroke-width="1.15"/>
<line x1="303.1" y1="178.59" x2="305.1" y2="178.59" stroke="#8fa5bb" stroke-width="1.2"/>
<line x1="318.3" y1="201.1" x2="318.3" y2="180" stroke="#8fa5bb" stroke-width="1.15"/>
<line x1="317.3" y1="180" x2="319.3" y2="180" stroke="#8fa5bb" stroke-width="1.2"/>
<line x1="289.9" y1="184.81" x2="289.9" y2="177.79" stroke="#d98393" stroke-width="1.15"/>
<line x1="288.9" y1="177.79" x2="290.9" y2="177.79" stroke="#d98393" stroke-width="1.2"/>
<line x1="304.1" y1="184.9" x2="304.1" y2="176.8" stroke="#d98393" stroke-width="1.15"/>
<line x1="303.1" y1="176.8" x2="305.1" y2="176.8" stroke="#d98393" stroke-width="1.2"/>
<line x1="318.3" y1="185.89" x2="318.3" y2="175.77" stroke="#d98393" stroke-width="1.15"/>
<line x1="317.3" y1="175.77" x2="319.3" y2="175.77" stroke="#d98393" stroke-width="1.2"/>
<path d="M275.5 204.72 L289.9 204.39 L304.1 204.96 L318.3 201.1" fill="none" stroke="#39628c" stroke-width="1.1" stroke-linejoin="round"/>
<circle cx="275.5" cy="204.72" r="1.1" fill="#39628c"/>
<circle cx="289.9" cy="204.39" r="1.1" fill="#39628c"/>
<circle cx="304.1" cy="204.96" r="1.1" fill="#39628c"/>
<circle cx="318.3" cy="201.1" r="1.1" fill="#39628c"/>
<path d="M275.5 182.5 L289.9 184.81 L304.1 184.9 L318.3 185.89" fill="none" stroke="#c83556" stroke-width="1.2" stroke-linejoin="round"/>
<circle cx="275.5" cy="182.5" r="1.1" fill="#c83556"/>
<circle cx="289.9" cy="184.81" r="1.1" fill="#c83556"/>
<circle cx="304.1" cy="184.9" r="1.1" fill="#c83556"/>
<circle cx="318.3" cy="185.89" r="1.1" fill="#c83556"/>
<line x1="268.5" y1="170.8" x2="268.5" y2="229.1" stroke="#2a2a2a" stroke-width="1.25"/>
<line x1="267.9" y1="228.5" x2="325.3" y2="228.5" stroke="#2a2a2a" stroke-width="1.25"/>
<line x1="265.9" y1="228.5" x2="268.5" y2="228.5" stroke="#2a2a2a" stroke-width="1"/>
<text x="263.1" y="230.75" font-size="6.3" text-anchor="end">0</text>
<line x1="265.9" y1="219.08" x2="268.5" y2="219.08" stroke="#2a2a2a" stroke-width="1"/>
<text x="263.1" y="221.33" font-size="6.3" text-anchor="end">20</text>
<line x1="265.9" y1="209.67" x2="268.5" y2="209.67" stroke="#2a2a2a" stroke-width="1"/>
<text x="263.1" y="211.92" font-size="6.3" text-anchor="end">40</text>
<line x1="265.9" y1="200.25" x2="268.5" y2="200.25" stroke="#2a2a2a" stroke-width="1"/>
<text x="263.1" y="202.5" font-size="6.3" text-anchor="end">60</text>
<line x1="265.9" y1="190.83" x2="268.5" y2="190.83" stroke="#2a2a2a" stroke-width="1"/>
<text x="263.1" y="193.08" font-size="6.3" text-anchor="end">80</text>
<line x1="265.9" y1="181.42" x2="268.5" y2="181.42" stroke="#2a2a2a" stroke-width="1"/>
<text x="263.1" y="183.67" font-size="6.3" text-anchor="end">100</text>
<line x1="265.9" y1="172" x2="268.5" y2="172" stroke="#2a2a2a" stroke-width="1"/>
<text x="263.1" y="174.25" font-size="6.3" text-anchor="end">120</text>
<line x1="275.5" y1="228.5" x2="275.5" y2="231.1" stroke="#2a2a2a" stroke-width="1"/>
<text x="275.5" y="240.5" font-size="6.6" text-anchor="middle">4</text>
<line x1="289.9" y1="228.5" x2="289.9" y2="231.1" stroke="#2a2a2a" stroke-width="1"/>
<text x="289.9" y="240.5" font-size="6.6" text-anchor="middle">8</text>
<line x1="304.1" y1="228.5" x2="304.1" y2="231.1" stroke="#2a2a2a" stroke-width="1"/>
<text x="304.1" y="240.5" font-size="6.6" text-anchor="middle">12</text>
<line x1="318.3" y1="228.5" x2="318.3" y2="231.1" stroke="#2a2a2a" stroke-width="1"/>
<text x="318.3" y="240.5" font-size="6.6" text-anchor="middle">16</text>
<circle cx="274.12" cy="178.5" r="1.15" fill="#333"/>
<circle cx="276.88" cy="178.5" r="1.15" fill="#333"/>
<circle cx="289.9" cy="175.1" r="1.15" fill="#333"/>
<circle cx="304.1" cy="174.2" r="1.15" fill="#333"/>
<circle cx="318.3" cy="172.4" r="1.15" fill="#333"/>
<line x1="322.2" y1="185.89" x2="322.2" y2="201.1" stroke="#2a2a2a" stroke-width="1"/>
<line x1="319.7" y1="185.89" x2="322.2" y2="185.89" stroke="#2a2a2a" stroke-width="1"/>
<line x1="319.7" y1="201.1" x2="322.2" y2="201.1" stroke="#2a2a2a" stroke-width="1"/>
<circle cx="325.9" cy="190.74" r="1.15" fill="#333"/>
<circle cx="325.9" cy="193.49" r="1.15" fill="#333"/>
<circle cx="325.9" cy="196.24" r="1.15" fill="#333"/>
<text x="296" y="164" font-size="8.6" text-anchor="middle">Myeloid cells</text>
<text x="246.85" y="199" font-size="9" text-anchor="middle" textLength="58" lengthAdjust="spacingAndGlyphs" transform="rotate(-90 246.85 199)">% of donor-derived</text>
<line x1="371.5" y1="216.4" x2="371.5" y2="200.25" stroke="#8fa5bb" stroke-width="1.15"/>
<line x1="370.5" y1="200.25" x2="372.5" y2="200.25" stroke="#8fa5bb" stroke-width="1.2"/>
<line x1="385.9" y1="209.38" x2="385.9" y2="189.89" stroke="#8fa5bb" stroke-width="1.15"/>
<line x1="384.9" y1="189.89" x2="386.9" y2="189.89" stroke="#8fa5bb" stroke-width="1.2"/>
<line x1="400.1" y1="212.82" x2="400.1" y2="194.6" stroke="#8fa5bb" stroke-width="1.15"/>
<line x1="399.1" y1="194.6" x2="401.1" y2="194.6" stroke="#8fa5bb" stroke-width="1.2"/>
<line x1="414.3" y1="210.47" x2="414.3" y2="189.89" stroke="#8fa5bb" stroke-width="1.15"/>
<line x1="413.3" y1="189.89" x2="415.3" y2="189.89" stroke="#8fa5bb" stroke-width="1.2"/>
<line x1="385.9" y1="184.81" x2="385.9" y2="180" stroke="#d98393" stroke-width="1.15"/>
<line x1="384.9" y1="180" x2="386.9" y2="180" stroke="#d98393" stroke-width="1.2"/>
<line x1="400.1" y1="184.81" x2="400.1" y2="180.95" stroke="#d98393" stroke-width="1.15"/>
<line x1="399.1" y1="180.95" x2="401.1" y2="180.95" stroke="#d98393" stroke-width="1.2"/>
<line x1="414.3" y1="184.81" x2="414.3" y2="180.95" stroke="#d98393" stroke-width="1.15"/>
<line x1="413.3" y1="180.95" x2="415.3" y2="180.95" stroke="#d98393" stroke-width="1.2"/>
<path d="M371.5 216.4 L385.9 209.38 L400.1 212.82 L414.3 210.47" fill="none" stroke="#39628c" stroke-width="1.1" stroke-linejoin="round"/>
<circle cx="371.5" cy="216.4" r="1.1" fill="#39628c"/>
<circle cx="385.9" cy="209.38" r="1.1" fill="#39628c"/>
<circle cx="400.1" cy="212.82" r="1.1" fill="#39628c"/>
<circle cx="414.3" cy="210.47" r="1.1" fill="#39628c"/>
<path d="M371.5 182.5 L385.9 184.81 L400.1 184.81 L414.3 184.81" fill="none" stroke="#c83556" stroke-width="1.2" stroke-linejoin="round"/>
<circle cx="371.5" cy="182.5" r="1.1" fill="#c83556"/>
<circle cx="385.9" cy="184.81" r="1.1" fill="#c83556"/>
<circle cx="400.1" cy="184.81" r="1.1" fill="#c83556"/>
<circle cx="414.3" cy="184.81" r="1.1" fill="#c83556"/>
<line x1="364.5" y1="170.8" x2="364.5" y2="229.1" stroke="#2a2a2a" stroke-width="1.25"/>
<line x1="363.9" y1="228.5" x2="420.6" y2="228.5" stroke="#2a2a2a" stroke-width="1.25"/>
<line x1="361.9" y1="228.5" x2="364.5" y2="228.5" stroke="#2a2a2a" stroke-width="1"/>
<text x="359.1" y="230.75" font-size="6.3" text-anchor="end">0</text>
<line x1="361.9" y1="219.08" x2="364.5" y2="219.08" stroke="#2a2a2a" stroke-width="1"/>
<text x="359.1" y="221.33" font-size="6.3" text-anchor="end">20</text>
<line x1="361.9" y1="209.67" x2="364.5" y2="209.67" stroke="#2a2a2a" stroke-width="1"/>
<text x="359.1" y="211.92" font-size="6.3" text-anchor="end">40</text>
<line x1="361.9" y1="200.25" x2="364.5" y2="200.25" stroke="#2a2a2a" stroke-width="1"/>
<text x="359.1" y="202.5" font-size="6.3" text-anchor="end">60</text>
<line x1="361.9" y1="190.83" x2="364.5" y2="190.83" stroke="#2a2a2a" stroke-width="1"/>
<text x="359.1" y="193.08" font-size="6.3" text-anchor="end">80</text>
<line x1="361.9" y1="181.42" x2="364.5" y2="181.42" stroke="#2a2a2a" stroke-width="1"/>
<text x="359.1" y="183.67" font-size="6.3" text-anchor="end">100</text>
<line x1="361.9" y1="172" x2="364.5" y2="172" stroke="#2a2a2a" stroke-width="1"/>
<text x="359.1" y="174.25" font-size="6.3" text-anchor="end">120</text>
<line x1="371.5" y1="228.5" x2="371.5" y2="231.1" stroke="#2a2a2a" stroke-width="1"/>
<text x="371.5" y="240.5" font-size="6.6" text-anchor="middle">4</text>
<line x1="385.9" y1="228.5" x2="385.9" y2="231.1" stroke="#2a2a2a" stroke-width="1"/>
<text x="385.9" y="240.5" font-size="6.6" text-anchor="middle">8</text>
<line x1="400.1" y1="228.5" x2="400.1" y2="231.1" stroke="#2a2a2a" stroke-width="1"/>
<text x="400.1" y="240.5" font-size="6.6" text-anchor="middle">12</text>
<line x1="414.3" y1="228.5" x2="414.3" y2="231.1" stroke="#2a2a2a" stroke-width="1"/>
<text x="414.3" y="240.5" font-size="6.6" text-anchor="middle">16</text>
<circle cx="370.12" cy="178.2" r="1.15" fill="#333"/>
<circle cx="372.88" cy="178.2" r="1.15" fill="#333"/>
<circle cx="384.52" cy="176.8" r="1.15" fill="#333"/>
<circle cx="387.27" cy="176.8" r="1.15" fill="#333"/>
<circle cx="398.73" cy="176.8" r="1.15" fill="#333"/>
<circle cx="401.48" cy="176.8" r="1.15" fill="#333"/>
<circle cx="412.93" cy="176.8" r="1.15" fill="#333"/>
<circle cx="415.68" cy="176.8" r="1.15" fill="#333"/>
<line x1="417.9" y1="184.81" x2="417.9" y2="210.47" stroke="#2a2a2a" stroke-width="1"/>
<line x1="415.4" y1="184.81" x2="417.9" y2="184.81" stroke="#2a2a2a" stroke-width="1"/>
<line x1="415.4" y1="210.47" x2="417.9" y2="210.47" stroke="#2a2a2a" stroke-width="1"/>
<circle cx="421.9" cy="193.51" r="1.15" fill="#333"/>
<circle cx="421.9" cy="196.26" r="1.15" fill="#333"/>
<circle cx="421.9" cy="199.01" r="1.15" fill="#333"/>
<circle cx="421.9" cy="201.76" r="1.15" fill="#333"/>
<text x="393" y="164" font-size="8.6" text-anchor="middle">B cells</text>
<text x="343.6" y="199" font-size="9" text-anchor="middle" textLength="58" lengthAdjust="spacingAndGlyphs" transform="rotate(-90 343.6 199)">% of donor-derived</text>
<line x1="478" y1="209.06" x2="478" y2="189.15" stroke="#8fa5bb" stroke-width="1.15"/>
<line x1="477" y1="189.15" x2="479" y2="189.15" stroke="#8fa5bb" stroke-width="1.2"/>
<line x1="492.1" y1="210.75" x2="492.1" y2="189.91" stroke="#8fa5bb" stroke-width="1.15"/>
<line x1="491.1" y1="189.91" x2="493.1" y2="189.91" stroke="#8fa5bb" stroke-width="1.2"/>
<line x1="506.3" y1="206.04" x2="506.3" y2="181.13" stroke="#8fa5bb" stroke-width="1.15"/>
<line x1="505.3" y1="181.13" x2="507.3" y2="181.13" stroke="#8fa5bb" stroke-width="1.2"/>
<line x1="478" y1="220.19" x2="478" y2="215.09" stroke="#d98393" stroke-width="1.15"/>
<line x1="477" y1="215.09" x2="479" y2="215.09" stroke="#d98393" stroke-width="1.2"/>
<line x1="492.1" y1="216.79" x2="492.1" y2="216.04" stroke="#d98393" stroke-width="1.15"/>
<line x1="491.1" y1="216.04" x2="493.1" y2="216.04" stroke="#d98393" stroke-width="1.2"/>
<line x1="506.3" y1="217.45" x2="506.3" y2="209.06" stroke="#d98393" stroke-width="1.15"/>
<line x1="505.3" y1="209.06" x2="507.3" y2="209.06" stroke="#d98393" stroke-width="1.2"/>
<path d="M463.9 228.3 L478 209.06 L492.1 210.75 L506.3 206.04" fill="none" stroke="#1f4f7a" stroke-width="1.1" stroke-linejoin="round"/>
<circle cx="463.9" cy="228.3" r="1.1" fill="#1f4f7a"/>
<circle cx="478" cy="209.06" r="1.1" fill="#1f4f7a"/>
<circle cx="492.1" cy="210.75" r="1.1" fill="#1f4f7a"/>
<circle cx="506.3" cy="206.04" r="1.1" fill="#1f4f7a"/>
<path d="M463.9 228.3 L478 220.19 L492.1 216.79 L506.3 217.45" fill="none" stroke="#c83556" stroke-width="1.2" stroke-linejoin="round"/>
<circle cx="463.9" cy="228.3" r="1.1" fill="#c83556"/>
<circle cx="478" cy="220.19" r="1.1" fill="#c83556"/>
<circle cx="492.1" cy="216.79" r="1.1" fill="#c83556"/>
<circle cx="506.3" cy="217.45" r="1.1" fill="#c83556"/>
<line x1="456.5" y1="170.5" x2="456.5" y2="228.9" stroke="#2a2a2a" stroke-width="1.25"/>
<line x1="455.9" y1="228.3" x2="512.6" y2="228.3" stroke="#2a2a2a" stroke-width="1.25"/>
<line x1="453.9" y1="228.3" x2="456.5" y2="228.3" stroke="#2a2a2a" stroke-width="1"/>
<text x="451.1" y="230.55" font-size="6.3" text-anchor="end">0</text>
<line x1="453.9" y1="209.43" x2="456.5" y2="209.43" stroke="#2a2a2a" stroke-width="1"/>
<text x="451.1" y="211.68" font-size="6.3" text-anchor="end">20</text>
<line x1="453.9" y1="190.57" x2="456.5" y2="190.57" stroke="#2a2a2a" stroke-width="1"/>
<text x="451.1" y="192.82" font-size="6.3" text-anchor="end">40</text>
<line x1="453.9" y1="171.7" x2="456.5" y2="171.7" stroke="#2a2a2a" stroke-width="1"/>
<text x="451.1" y="173.95" font-size="6.3" text-anchor="end">60</text>
<line x1="463.9" y1="228.3" x2="463.9" y2="230.9" stroke="#2a2a2a" stroke-width="1"/>
<text x="463.9" y="240.3" font-size="6.6" text-anchor="middle">4</text>
<line x1="478" y1="228.3" x2="478" y2="230.9" stroke="#2a2a2a" stroke-width="1"/>
<text x="478" y="240.3" font-size="6.6" text-anchor="middle">8</text>
<line x1="492.1" y1="228.3" x2="492.1" y2="230.9" stroke="#2a2a2a" stroke-width="1"/>
<text x="492.1" y="240.3" font-size="6.6" text-anchor="middle">12</text>
<line x1="506.3" y1="228.3" x2="506.3" y2="230.9" stroke="#2a2a2a" stroke-width="1"/>
<text x="506.3" y="240.3" font-size="6.6" text-anchor="middle">16</text>
<text x="485.4" y="163.2" font-size="8.6" text-anchor="middle">T cells</text>
<text x="439.4" y="199" font-size="9" text-anchor="middle" textLength="58" lengthAdjust="spacingAndGlyphs" transform="rotate(-90 439.4 199)">% of donor-derived</text>
<line x1="50.4" y1="346.09" x2="50.4" y2="340.55" stroke="#8fa5bb" stroke-width="1.15"/>
<line x1="49.4" y1="340.55" x2="51.4" y2="340.55" stroke="#8fa5bb" stroke-width="1.2"/>
<line x1="64.5" y1="345.64" x2="64.5" y2="339.13" stroke="#8fa5bb" stroke-width="1.15"/>
<line x1="63.5" y1="339.13" x2="65.5" y2="339.13" stroke="#8fa5bb" stroke-width="1.2"/>
<line x1="78.7" y1="347.22" x2="78.7" y2="342.53" stroke="#8fa5bb" stroke-width="1.15"/>
<line x1="77.7" y1="342.53" x2="79.7" y2="342.53" stroke="#8fa5bb" stroke-width="1.2"/>
<line x1="92.5" y1="348.19" x2="92.5" y2="344.28" stroke="#8fa5bb" stroke-width="1.15"/>
<line x1="91.5" y1="344.28" x2="93.5" y2="344.28" stroke="#8fa5bb" stroke-width="1.2"/>
<line x1="50.4" y1="322.72" x2="50.4" y2="312.25" stroke="#d98393" stroke-width="1.15"/>
<line x1="49.4" y1="312.25" x2="51.4" y2="312.25" stroke="#d98393" stroke-width="1.2"/>
<line x1="64.5" y1="326.4" x2="64.5" y2="312.25" stroke="#d98393" stroke-width="1.15"/>
<line x1="63.5" y1="312.25" x2="65.5" y2="312.25" stroke="#d98393" stroke-width="1.2"/>
<line x1="78.7" y1="330.02" x2="78.7" y2="314.23" stroke="#d98393" stroke-width="1.15"/>
<line x1="77.7" y1="314.23" x2="79.7" y2="314.23" stroke="#d98393" stroke-width="1.2"/>
<line x1="92.5" y1="333.53" x2="92.5" y2="315.64" stroke="#d98393" stroke-width="1.15"/>
<line x1="91.5" y1="315.64" x2="93.5" y2="315.64" stroke="#d98393" stroke-width="1.2"/>
<path d="M50.4 346.09 L64.5 345.64 L78.7 347.22 L92.5 348.19" fill="none" stroke="#39628c" stroke-width="1.1" stroke-linejoin="round"/>
<circle cx="50.4" cy="346.09" r="1.1" fill="#39628c"/>
<circle cx="64.5" cy="345.64" r="1.1" fill="#39628c"/>
<circle cx="78.7" cy="347.22" r="1.1" fill="#39628c"/>
<circle cx="92.5" cy="348.19" r="1.1" fill="#39628c"/>
<path d="M50.4 322.72 L64.5 326.4 L78.7 330.02 L92.5 333.53" fill="none" stroke="#c83556" stroke-width="1.2" stroke-linejoin="round"/>
<circle cx="50.4" cy="322.72" r="1.1" fill="#c83556"/>
<circle cx="64.5" cy="326.4" r="1.1" fill="#c83556"/>
<circle cx="78.7" cy="330.02" r="1.1" fill="#c83556"/>
<circle cx="92.5" cy="333.53" r="1.1" fill="#c83556"/>
<line x1="43.4" y1="293.5" x2="43.4" y2="351.9" stroke="#2a2a2a" stroke-width="1.25"/>
<line x1="42.8" y1="351.3" x2="98.6" y2="351.3" stroke="#2a2a2a" stroke-width="1.25"/>
<line x1="40.8" y1="351.3" x2="43.4" y2="351.3" stroke="#2a2a2a" stroke-width="1"/>
<text x="38" y="353.55" font-size="6.3" text-anchor="end">0</text>
<line x1="40.8" y1="339.98" x2="43.4" y2="339.98" stroke="#2a2a2a" stroke-width="1"/>
<text x="38" y="342.23" font-size="6.3" text-anchor="end">20</text>
<line x1="40.8" y1="328.66" x2="43.4" y2="328.66" stroke="#2a2a2a" stroke-width="1"/>
<text x="38" y="330.91" font-size="6.3" text-anchor="end">40</text>
<line x1="40.8" y1="317.34" x2="43.4" y2="317.34" stroke="#2a2a2a" stroke-width="1"/>
<text x="38" y="319.59" font-size="6.3" text-anchor="end">60</text>
<line x1="40.8" y1="306.02" x2="43.4" y2="306.02" stroke="#2a2a2a" stroke-width="1"/>
<text x="38" y="308.27" font-size="6.3" text-anchor="end">80</text>
<line x1="40.8" y1="294.7" x2="43.4" y2="294.7" stroke="#2a2a2a" stroke-width="1"/>
<text x="38" y="296.95" font-size="6.3" text-anchor="end">100</text>
<line x1="50.4" y1="351.3" x2="50.4" y2="353.9" stroke="#2a2a2a" stroke-width="1"/>
<text x="50.4" y="363.3" font-size="6.6" text-anchor="middle">4</text>
<line x1="64.5" y1="351.3" x2="64.5" y2="353.9" stroke="#2a2a2a" stroke-width="1"/>
<text x="64.5" y="363.3" font-size="6.6" text-anchor="middle">8</text>
<line x1="78.7" y1="351.3" x2="78.7" y2="353.9" stroke="#2a2a2a" stroke-width="1"/>
<text x="78.7" y="363.3" font-size="6.6" text-anchor="middle">12</text>
<line x1="92.5" y1="351.3" x2="92.5" y2="353.9" stroke="#2a2a2a" stroke-width="1"/>
<text x="92.5" y="363.3" font-size="6.6" text-anchor="middle">16</text>
<circle cx="46.27" cy="309.3" r="1.15" fill="#333"/>
<circle cx="49.02" cy="309.3" r="1.15" fill="#333"/>
<circle cx="51.77" cy="309.3" r="1.15" fill="#333"/>
<circle cx="54.52" cy="309.3" r="1.15" fill="#333"/>
<circle cx="60.38" cy="309.3" r="1.15" fill="#333"/>
<circle cx="63.12" cy="309.3" r="1.15" fill="#333"/>
<circle cx="65.88" cy="309.3" r="1.15" fill="#333"/>
<circle cx="68.62" cy="309.3" r="1.15" fill="#333"/>
<circle cx="74.58" cy="310.9" r="1.15" fill="#333"/>
<circle cx="77.33" cy="310.9" r="1.15" fill="#333"/>
<circle cx="80.08" cy="310.9" r="1.15" fill="#333"/>
<circle cx="82.83" cy="310.9" r="1.15" fill="#333"/>
<circle cx="91.12" cy="312.6" r="1.15" fill="#333"/>
<circle cx="93.88" cy="312.6" r="1.15" fill="#333"/>
<line x1="97" y1="333.53" x2="97" y2="348.19" stroke="#2a2a2a" stroke-width="1"/>
<line x1="94.5" y1="333.53" x2="97" y2="333.53" stroke="#2a2a2a" stroke-width="1"/>
<line x1="94.5" y1="348.19" x2="97" y2="348.19" stroke="#2a2a2a" stroke-width="1"/>
<circle cx="100.2" cy="336.73" r="1.15" fill="#333"/>
<circle cx="100.2" cy="339.48" r="1.15" fill="#333"/>
<circle cx="100.2" cy="342.23" r="1.15" fill="#333"/>
<circle cx="100.2" cy="344.98" r="1.15" fill="#333"/>
<text x="71" y="286.3" font-size="8.6" text-anchor="middle">All CD45<tspan font-size="5" dy="-3">+</tspan><tspan dy="3"> cells</tspan></text>
<text x="21.1" y="321.6" font-size="9" text-anchor="middle" textLength="56" lengthAdjust="spacingAndGlyphs" transform="rotate(-90 21.1 321.6)">% of donor-derived</text>
<line x1="145.9" y1="345.19" x2="145.9" y2="335.79" stroke="#8fa5bb" stroke-width="1.15"/>
<line x1="144.9" y1="335.79" x2="146.9" y2="335.79" stroke="#8fa5bb" stroke-width="1.2"/>
<line x1="160.3" y1="349.6" x2="160.3" y2="341.79" stroke="#8fa5bb" stroke-width="1.15"/>
<line x1="159.3" y1="341.79" x2="161.3" y2="341.79" stroke="#8fa5bb" stroke-width="1.2"/>
<line x1="174.4" y1="349.77" x2="174.4" y2="342.53" stroke="#8fa5bb" stroke-width="1.15"/>
<line x1="173.4" y1="342.53" x2="175.4" y2="342.53" stroke="#8fa5bb" stroke-width="1.2"/>
<line x1="188.3" y1="350.62" x2="188.3" y2="343.94" stroke="#8fa5bb" stroke-width="1.15"/>
<line x1="187.3" y1="343.94" x2="189.3" y2="343.94" stroke="#8fa5bb" stroke-width="1.2"/>
<line x1="145.9" y1="330.36" x2="145.9" y2="310.21" stroke="#d98393" stroke-width="1.15"/>
<line x1="144.9" y1="310.21" x2="146.9" y2="310.21" stroke="#d98393" stroke-width="1.2"/>
<line x1="160.3" y1="335.45" x2="160.3" y2="312.25" stroke="#d98393" stroke-width="1.15"/>
<line x1="159.3" y1="312.25" x2="161.3" y2="312.25" stroke="#d98393" stroke-width="1.2"/>
<line x1="174.4" y1="336.47" x2="174.4" y2="313.6" stroke="#d98393" stroke-width="1.15"/>
<line x1="173.4" y1="313.6" x2="175.4" y2="313.6" stroke="#d98393" stroke-width="1.2"/>
<line x1="188.3" y1="337.15" x2="188.3" y2="314.23" stroke="#d98393" stroke-width="1.15"/>
<line x1="187.3" y1="314.23" x2="189.3" y2="314.23" stroke="#d98393" stroke-width="1.2"/>
<path d="M145.9 345.19 L160.3 349.6 L174.4 349.77 L188.3 350.62" fill="none" stroke="#39628c" stroke-width="1.1" stroke-linejoin="round"/>
<circle cx="145.9" cy="345.19" r="1.1" fill="#39628c"/>
<circle cx="160.3" cy="349.6" r="1.1" fill="#39628c"/>
<circle cx="174.4" cy="349.77" r="1.1" fill="#39628c"/>
<circle cx="188.3" cy="350.62" r="1.1" fill="#39628c"/>
<path d="M145.9 330.36 L160.3 335.45 L174.4 336.47 L188.3 337.15" fill="none" stroke="#c83556" stroke-width="1.2" stroke-linejoin="round"/>
<circle cx="145.9" cy="330.36" r="1.1" fill="#c83556"/>
<circle cx="160.3" cy="335.45" r="1.1" fill="#c83556"/>
<circle cx="174.4" cy="336.47" r="1.1" fill="#c83556"/>
<circle cx="188.3" cy="337.15" r="1.1" fill="#c83556"/>
<line x1="139" y1="293.5" x2="139" y2="351.9" stroke="#2a2a2a" stroke-width="1.25"/>
<line x1="138.4" y1="351.3" x2="193.2" y2="351.3" stroke="#2a2a2a" stroke-width="1.25"/>
<line x1="136.4" y1="351.3" x2="139" y2="351.3" stroke="#2a2a2a" stroke-width="1"/>
<text x="133.6" y="353.55" font-size="6.3" text-anchor="end">0</text>
<line x1="136.4" y1="339.98" x2="139" y2="339.98" stroke="#2a2a2a" stroke-width="1"/>
<text x="133.6" y="342.23" font-size="6.3" text-anchor="end">20</text>
<line x1="136.4" y1="328.66" x2="139" y2="328.66" stroke="#2a2a2a" stroke-width="1"/>
<text x="133.6" y="330.91" font-size="6.3" text-anchor="end">40</text>
<line x1="136.4" y1="317.34" x2="139" y2="317.34" stroke="#2a2a2a" stroke-width="1"/>
<text x="133.6" y="319.59" font-size="6.3" text-anchor="end">60</text>
<line x1="136.4" y1="306.02" x2="139" y2="306.02" stroke="#2a2a2a" stroke-width="1"/>
<text x="133.6" y="308.27" font-size="6.3" text-anchor="end">80</text>
<line x1="136.4" y1="294.7" x2="139" y2="294.7" stroke="#2a2a2a" stroke-width="1"/>
<text x="133.6" y="296.95" font-size="6.3" text-anchor="end">100</text>
<line x1="145.9" y1="351.3" x2="145.9" y2="353.9" stroke="#2a2a2a" stroke-width="1"/>
<text x="145.9" y="363.3" font-size="6.6" text-anchor="middle">4</text>
<line x1="160.3" y1="351.3" x2="160.3" y2="353.9" stroke="#2a2a2a" stroke-width="1"/>
<text x="160.3" y="363.3" font-size="6.6" text-anchor="middle">8</text>
<line x1="174.4" y1="351.3" x2="174.4" y2="353.9" stroke="#2a2a2a" stroke-width="1"/>
<text x="174.4" y="363.3" font-size="6.6" text-anchor="middle">12</text>
<line x1="188.3" y1="351.3" x2="188.3" y2="353.9" stroke="#2a2a2a" stroke-width="1"/>
<text x="188.3" y="363.3" font-size="6.6" text-anchor="middle">16</text>
<circle cx="144.53" cy="306.8" r="1.15" fill="#333"/>
<circle cx="147.28" cy="306.8" r="1.15" fill="#333"/>
<circle cx="156.18" cy="308.9" r="1.15" fill="#333"/>
<circle cx="158.93" cy="308.9" r="1.15" fill="#333"/>
<circle cx="161.68" cy="308.9" r="1.15" fill="#333"/>
<circle cx="164.43" cy="308.9" r="1.15" fill="#333"/>
<circle cx="171.65" cy="310.6" r="1.15" fill="#333"/>
<circle cx="174.4" cy="310.6" r="1.15" fill="#333"/>
<circle cx="177.15" cy="310.6" r="1.15" fill="#333"/>
<circle cx="185.55" cy="311.1" r="1.15" fill="#333"/>
<circle cx="188.3" cy="311.1" r="1.15" fill="#333"/>
<circle cx="191.05" cy="311.1" r="1.15" fill="#333"/>
<line x1="191.9" y1="337.15" x2="191.9" y2="350.62" stroke="#2a2a2a" stroke-width="1"/>
<line x1="189.4" y1="337.15" x2="191.9" y2="337.15" stroke="#2a2a2a" stroke-width="1"/>
<line x1="189.4" y1="350.62" x2="191.9" y2="350.62" stroke="#2a2a2a" stroke-width="1"/>
<circle cx="196.2" cy="339.76" r="1.15" fill="#333"/>
<circle cx="196.2" cy="342.51" r="1.15" fill="#333"/>
<circle cx="196.2" cy="345.26" r="1.15" fill="#333"/>
<circle cx="196.2" cy="348.01" r="1.15" fill="#333"/>
<text x="167.5" y="286.3" font-size="8.6" text-anchor="middle">Myeloid cells</text>
<text x="117.1" y="321.6" font-size="9" text-anchor="middle" textLength="56" lengthAdjust="spacingAndGlyphs" transform="rotate(-90 117.1 321.6)">% of donor-derived</text>
<line x1="241.9" y1="338.11" x2="241.9" y2="324.13" stroke="#8fa5bb" stroke-width="1.15"/>
<line x1="240.9" y1="324.13" x2="242.9" y2="324.13" stroke="#8fa5bb" stroke-width="1.2"/>
<line x1="256" y1="343.21" x2="256" y2="332.4" stroke="#8fa5bb" stroke-width="1.15"/>
<line x1="255" y1="332.4" x2="257" y2="332.4" stroke="#8fa5bb" stroke-width="1.2"/>
<line x1="270.1" y1="345.64" x2="270.1" y2="338.51" stroke="#8fa5bb" stroke-width="1.15"/>
<line x1="269.1" y1="338.51" x2="271.1" y2="338.51" stroke="#8fa5bb" stroke-width="1.2"/>
<line x1="284.3" y1="346.49" x2="284.3" y2="340.89" stroke="#8fa5bb" stroke-width="1.15"/>
<line x1="283.3" y1="340.89" x2="285.3" y2="340.89" stroke="#8fa5bb" stroke-width="1.2"/>
<line x1="241.9" y1="306.81" x2="241.9" y2="296.12" stroke="#d98393" stroke-width="1.15"/>
<line x1="240.9" y1="296.12" x2="242.9" y2="296.12" stroke="#d98393" stroke-width="1.2"/>
<line x1="256" y1="315.98" x2="256" y2="301.21" stroke="#d98393" stroke-width="1.15"/>
<line x1="255" y1="301.21" x2="257" y2="301.21" stroke="#d98393" stroke-width="1.2"/>
<line x1="270.1" y1="322.72" x2="270.1" y2="304.21" stroke="#d98393" stroke-width="1.15"/>
<line x1="269.1" y1="304.21" x2="271.1" y2="304.21" stroke="#d98393" stroke-width="1.2"/>
<line x1="284.3" y1="328.09" x2="284.3" y2="306.81" stroke="#d98393" stroke-width="1.15"/>
<line x1="283.3" y1="306.81" x2="285.3" y2="306.81" stroke="#d98393" stroke-width="1.2"/>
<path d="M241.9 338.11 C244.25 338.96 251.3 341.95 256 343.21 C260.7 344.46 265.38 345.09 270.1 345.64 C274.82 346.19 281.93 346.35 284.3 346.49" fill="none" stroke="#39628c" stroke-width="1.1" stroke-linejoin="round"/>
<circle cx="241.9" cy="338.11" r="1.1" fill="#39628c"/>
<circle cx="256" cy="343.21" r="1.1" fill="#39628c"/>
<circle cx="270.1" cy="345.64" r="1.1" fill="#39628c"/>
<circle cx="284.3" cy="346.49" r="1.1" fill="#39628c"/>
<path d="M241.9 306.81 C244.25 308.34 251.3 313.33 256 315.98 C260.7 318.63 265.38 320.7 270.1 322.72 C274.82 324.74 281.93 327.2 284.3 328.09" fill="none" stroke="#c83556" stroke-width="1.2" stroke-linejoin="round"/>
<circle cx="241.9" cy="306.81" r="1.1" fill="#c83556"/>
<circle cx="256" cy="315.98" r="1.1" fill="#c83556"/>
<circle cx="270.1" cy="322.72" r="1.1" fill="#c83556"/>
<circle cx="284.3" cy="328.09" r="1.1" fill="#c83556"/>
<line x1="234.7" y1="293.5" x2="234.7" y2="351.9" stroke="#2a2a2a" stroke-width="1.25"/>
<line x1="234.1" y1="351.3" x2="289.9" y2="351.3" stroke="#2a2a2a" stroke-width="1.25"/>
<line x1="232.1" y1="351.3" x2="234.7" y2="351.3" stroke="#2a2a2a" stroke-width="1"/>
<text x="229.3" y="353.55" font-size="6.3" text-anchor="end">0</text>
<line x1="232.1" y1="339.98" x2="234.7" y2="339.98" stroke="#2a2a2a" stroke-width="1"/>
<text x="229.3" y="342.23" font-size="6.3" text-anchor="end">20</text>
<line x1="232.1" y1="328.66" x2="234.7" y2="328.66" stroke="#2a2a2a" stroke-width="1"/>
<text x="229.3" y="330.91" font-size="6.3" text-anchor="end">40</text>
<line x1="232.1" y1="317.34" x2="234.7" y2="317.34" stroke="#2a2a2a" stroke-width="1"/>
<text x="229.3" y="319.59" font-size="6.3" text-anchor="end">60</text>
<line x1="232.1" y1="306.02" x2="234.7" y2="306.02" stroke="#2a2a2a" stroke-width="1"/>
<text x="229.3" y="308.27" font-size="6.3" text-anchor="end">80</text>
<line x1="232.1" y1="294.7" x2="234.7" y2="294.7" stroke="#2a2a2a" stroke-width="1"/>
<text x="229.3" y="296.95" font-size="6.3" text-anchor="end">100</text>
<line x1="241.9" y1="351.3" x2="241.9" y2="353.9" stroke="#2a2a2a" stroke-width="1"/>
<text x="241.9" y="363.3" font-size="6.6" text-anchor="middle">4</text>
<line x1="256" y1="351.3" x2="256" y2="353.9" stroke="#2a2a2a" stroke-width="1"/>
<text x="256" y="363.3" font-size="6.6" text-anchor="middle">8</text>
<line x1="270.1" y1="351.3" x2="270.1" y2="353.9" stroke="#2a2a2a" stroke-width="1"/>
<text x="270.1" y="363.3" font-size="6.6" text-anchor="middle">12</text>
<line x1="284.3" y1="351.3" x2="284.3" y2="353.9" stroke="#2a2a2a" stroke-width="1"/>
<text x="284.3" y="363.3" font-size="6.6" text-anchor="middle">16</text>
<circle cx="237.78" cy="293.4" r="1.15" fill="#333"/>
<circle cx="240.53" cy="293.4" r="1.15" fill="#333"/>
<circle cx="243.28" cy="293.4" r="1.15" fill="#333"/>
<circle cx="246.03" cy="293.4" r="1.15" fill="#333"/>
<circle cx="251.88" cy="297.8" r="1.15" fill="#333"/>
<circle cx="254.62" cy="297.8" r="1.15" fill="#333"/>
<circle cx="257.38" cy="297.8" r="1.15" fill="#333"/>
<circle cx="260.12" cy="297.8" r="1.15" fill="#333"/>
<circle cx="265.98" cy="301.5" r="1.15" fill="#333"/>
<circle cx="268.73" cy="301.5" r="1.15" fill="#333"/>
<circle cx="271.48" cy="301.5" r="1.15" fill="#333"/>
<circle cx="274.23" cy="301.5" r="1.15" fill="#333"/>
<circle cx="282.93" cy="304.4" r="1.15" fill="#333"/>
<circle cx="285.68" cy="304.4" r="1.15" fill="#333"/>
<line x1="288.6" y1="328.09" x2="288.6" y2="346.49" stroke="#2a2a2a" stroke-width="1"/>
<line x1="286.1" y1="328.09" x2="288.6" y2="328.09" stroke="#2a2a2a" stroke-width="1"/>
<line x1="286.1" y1="346.49" x2="288.6" y2="346.49" stroke="#2a2a2a" stroke-width="1"/>
<circle cx="291.9" cy="333.17" r="1.15" fill="#333"/>
<circle cx="291.9" cy="335.92" r="1.15" fill="#333"/>
<circle cx="291.9" cy="338.67" r="1.15" fill="#333"/>
<circle cx="291.9" cy="341.42" r="1.15" fill="#333"/>
<text x="263.75" y="286.3" font-size="8.6" text-anchor="middle">B cells</text>
<text x="214.35" y="321.6" font-size="9" text-anchor="middle" textLength="56" lengthAdjust="spacingAndGlyphs" transform="rotate(-90 214.35 321.6)">% of donor-derived</text>
<line x1="348.3" y1="335.03" x2="348.3" y2="316.35" stroke="#3f5f8a" stroke-width="1.15"/>
<line x1="347.3" y1="316.35" x2="349.3" y2="316.35" stroke="#3f5f8a" stroke-width="1.2"/>
<line x1="362.4" y1="338.85" x2="362.4" y2="324.13" stroke="#3f5f8a" stroke-width="1.15"/>
<line x1="361.4" y1="324.13" x2="363.4" y2="324.13" stroke="#3f5f8a" stroke-width="1.2"/>
<line x1="376.5" y1="341.54" x2="376.5" y2="322.29" stroke="#3f5f8a" stroke-width="1.15"/>
<line x1="375.5" y1="322.29" x2="377.5" y2="322.29" stroke="#3f5f8a" stroke-width="1.2"/>
<line x1="376.5" y1="339.56" x2="376.5" y2="322.29" stroke="#d98393" stroke-width="1.15"/>
<line x1="375.5" y1="322.29" x2="377.5" y2="322.29" stroke="#d98393" stroke-width="1.2"/>
<path d="M334.1 351.3 L348.3 335.03 L362.4 338.85 L376.5 341.54" fill="none" stroke="#24466f" stroke-width="1.1" stroke-linejoin="round"/>
<circle cx="334.1" cy="351.3" r="1.1" fill="#24466f"/>
<circle cx="348.3" cy="335.03" r="1.1" fill="#24466f"/>
<circle cx="362.4" cy="338.85" r="1.1" fill="#24466f"/>
<circle cx="376.5" cy="341.54" r="1.1" fill="#24466f"/>
<path d="M334.1 351.3 L348.3 338.85 L362.4 337.86 L376.5 339.56" fill="none" stroke="#c83556" stroke-width="1.2" stroke-linejoin="round"/>
<circle cx="334.1" cy="351.3" r="1.1" fill="#c83556"/>
<circle cx="348.3" cy="338.85" r="1.1" fill="#c83556"/>
<circle cx="362.4" cy="337.86" r="1.1" fill="#c83556"/>
<circle cx="376.5" cy="339.56" r="1.1" fill="#c83556"/>
<line x1="327" y1="293.5" x2="327" y2="351.9" stroke="#2a2a2a" stroke-width="1.25"/>
<line x1="326.4" y1="351.3" x2="383.3" y2="351.3" stroke="#2a2a2a" stroke-width="1.25"/>
<line x1="324.4" y1="351.3" x2="327" y2="351.3" stroke="#2a2a2a" stroke-width="1"/>
<text x="321.6" y="353.55" font-size="6.3" text-anchor="end">0</text>
<line x1="324.4" y1="337.15" x2="327" y2="337.15" stroke="#2a2a2a" stroke-width="1"/>
<text x="321.6" y="339.4" font-size="6.3" text-anchor="end">10</text>
<line x1="324.4" y1="323" x2="327" y2="323" stroke="#2a2a2a" stroke-width="1"/>
<text x="321.6" y="325.25" font-size="6.3" text-anchor="end">20</text>
<line x1="324.4" y1="308.85" x2="327" y2="308.85" stroke="#2a2a2a" stroke-width="1"/>
<text x="321.6" y="311.1" font-size="6.3" text-anchor="end">30</text>
<line x1="324.4" y1="294.7" x2="327" y2="294.7" stroke="#2a2a2a" stroke-width="1"/>
<text x="321.6" y="296.95" font-size="6.3" text-anchor="end">40</text>
<line x1="334.1" y1="351.3" x2="334.1" y2="353.9" stroke="#2a2a2a" stroke-width="1"/>
<text x="334.1" y="363.3" font-size="6.6" text-anchor="middle">4</text>
<line x1="348.3" y1="351.3" x2="348.3" y2="353.9" stroke="#2a2a2a" stroke-width="1"/>
<text x="348.3" y="363.3" font-size="6.6" text-anchor="middle">8</text>
<line x1="362.4" y1="351.3" x2="362.4" y2="353.9" stroke="#2a2a2a" stroke-width="1"/>
<text x="362.4" y="363.3" font-size="6.6" text-anchor="middle">12</text>
<line x1="376.5" y1="351.3" x2="376.5" y2="353.9" stroke="#2a2a2a" stroke-width="1"/>
<text x="376.5" y="363.3" font-size="6.6" text-anchor="middle">16</text>
<text x="355.8" y="286.3" font-size="8.6" text-anchor="middle">T cells</text>
<text x="309.8" y="321.6" font-size="9" text-anchor="middle" textLength="56" lengthAdjust="spacingAndGlyphs" transform="rotate(-90 309.8 321.6)">% of donor-derived</text>
<rect x="446.5" y="351.17" width="6" height="0.33" fill="#7788bb"/>
<circle cx="449.5" cy="325.88" r="0.75" fill="#2c3f66"/>
<line x1="449.5" y1="351.5" x2="449.5" y2="344.82" stroke="#2c3f66" stroke-width="1.1"/>
<line x1="447.1" y1="344.82" x2="451.9" y2="344.82" stroke="#2c3f66" stroke-width="1.1"/>
<rect x="456.9" y="346.26" width="5.8" height="5.24" fill="#e98b7b"/>
<circle cx="459.8" cy="314.18" r="0.75" fill="#d0304a"/>
<circle cx="459.8" cy="315.85" r="0.75" fill="#d0304a"/>
<circle cx="459.8" cy="319.19" r="0.75" fill="#d0304a"/>
<circle cx="459.8" cy="320.87" r="0.75" fill="#d0304a"/>
<line x1="459.8" y1="351.5" x2="459.8" y2="333.12" stroke="#4a3434" stroke-width="1.1"/>
<line x1="457.4" y1="333.12" x2="462.2" y2="333.12" stroke="#4a3434" stroke-width="1.1"/>
<rect x="469" y="350.94" width="6" height="0.56" fill="#7788bb"/>
<circle cx="470" cy="316.97" r="0.75" fill="#2c3f66"/>
<line x1="472" y1="351.5" x2="472" y2="342.31" stroke="#2c3f66" stroke-width="1.1"/>
<line x1="469.6" y1="342.31" x2="474.4" y2="342.31" stroke="#2c3f66" stroke-width="1.1"/>
<rect x="479" y="336.68" width="6.8" height="14.82" fill="#e98b7b"/>
<circle cx="482.4" cy="299.14" r="0.75" fill="#d0304a"/>
<circle cx="482.4" cy="303.6" r="0.75" fill="#d0304a"/>
<circle cx="482.4" cy="305.27" r="0.75" fill="#d0304a"/>
<circle cx="482.4" cy="306.38" r="0.75" fill="#d0304a"/>
<circle cx="481.4" cy="344.82" r="0.75" fill="#d0304a"/>
<line x1="482.4" y1="351.5" x2="482.4" y2="314.4" stroke="#4a3434" stroke-width="1.1"/>
<line x1="480" y1="314.4" x2="484.8" y2="314.4" stroke="#4a3434" stroke-width="1.1"/>
<rect x="491.5" y="351.17" width="6" height="0.33" fill="#7788bb"/>
<circle cx="492.5" cy="321.42" r="0.75" fill="#2c3f66"/>
<line x1="494.5" y1="351.5" x2="494.5" y2="343.81" stroke="#2c3f66" stroke-width="1.1"/>
<line x1="492.1" y1="343.81" x2="496.9" y2="343.81" stroke="#2c3f66" stroke-width="1.1"/>
<rect x="502.1" y="346.21" width="6.2" height="5.29" fill="#e98b7b"/>
<circle cx="505.2" cy="310.28" r="0.75" fill="#d0304a"/>
<circle cx="504.2" cy="348.71" r="0.75" fill="#d0304a"/>
<line x1="505.2" y1="351.5" x2="505.2" y2="331.89" stroke="#4a3434" stroke-width="1.1"/>
<line x1="502.8" y1="331.89" x2="507.6" y2="331.89" stroke="#4a3434" stroke-width="1.1"/>
<line x1="422" y1="351.2" x2="432" y2="351.2" stroke="#39628c" stroke-width="1.6"/>
<line x1="432" y1="351.2" x2="443" y2="351.2" stroke="#c83556" stroke-width="1.6"/>
<line x1="444" y1="351.2" x2="456" y2="351.2" stroke="#39628c" stroke-width="1.6"/>
<line x1="456" y1="351.2" x2="464" y2="351.2" stroke="#c83556" stroke-width="1.6"/>
<line x1="466" y1="351.2" x2="478" y2="351.2" stroke="#39628c" stroke-width="1.6"/>
<line x1="478" y1="351.2" x2="487" y2="351.2" stroke="#c83556" stroke-width="1.6"/>
<line x1="489" y1="351.2" x2="500" y2="351.2" stroke="#39628c" stroke-width="1.6"/>
<line x1="500" y1="351.2" x2="509" y2="351.2" stroke="#c83556" stroke-width="1.6"/>
<line x1="421.7" y1="294.6" x2="421.7" y2="352.1" stroke="#2a2a2a" stroke-width="1.25"/>
<line x1="421.1" y1="351.5" x2="511.25" y2="351.5" stroke="#2a2a2a" stroke-width="1.25"/>
<line x1="419.1" y1="351.5" x2="421.7" y2="351.5" stroke="#2a2a2a" stroke-width="1"/>
<text x="416.3" y="353.75" font-size="6.3" text-anchor="end">0</text>
<line x1="419.1" y1="340.36" x2="421.7" y2="340.36" stroke="#2a2a2a" stroke-width="1"/>
<text x="416.3" y="342.61" font-size="6.3" text-anchor="end">20</text>
<line x1="419.1" y1="329.22" x2="421.7" y2="329.22" stroke="#2a2a2a" stroke-width="1"/>
<text x="416.3" y="331.47" font-size="6.3" text-anchor="end">40</text>
<line x1="419.1" y1="318.08" x2="421.7" y2="318.08" stroke="#2a2a2a" stroke-width="1"/>
<text x="416.3" y="320.33" font-size="6.3" text-anchor="end">60</text>
<line x1="419.1" y1="306.94" x2="421.7" y2="306.94" stroke="#2a2a2a" stroke-width="1"/>
<text x="416.3" y="309.19" font-size="6.3" text-anchor="end">80</text>
<line x1="419.1" y1="295.8" x2="421.7" y2="295.8" stroke="#2a2a2a" stroke-width="1"/>
<text x="416.3" y="298.05" font-size="6.3" text-anchor="end">100</text>
<line x1="432.5" y1="351.5" x2="432.5" y2="354.1" stroke="#2a2a2a" stroke-width="1"/>
<line x1="454.6" y1="351.5" x2="454.6" y2="354.1" stroke="#2a2a2a" stroke-width="1"/>
<line x1="477" y1="351.5" x2="477" y2="354.1" stroke="#2a2a2a" stroke-width="1"/>
<line x1="499.5" y1="351.5" x2="499.5" y2="354.1" stroke="#2a2a2a" stroke-width="1"/>
<text x="433" y="363.7" font-size="7" text-anchor="middle" textLength="12.5" lengthAdjust="spacingAndGlyphs">HSC</text>
<text x="455" y="363.7" font-size="7" text-anchor="middle" textLength="12.5" lengthAdjust="spacingAndGlyphs">MPP</text>
<text x="477.5" y="363.7" font-size="7" text-anchor="middle" textLength="15.8" lengthAdjust="spacingAndGlyphs">HPC1</text>
<text x="500" y="363.7" font-size="7" text-anchor="middle" textLength="16" lengthAdjust="spacingAndGlyphs">HPC2</text>
<line x1="450" y1="305" x2="459.6" y2="305" stroke="#2a2a2a" stroke-width="1"/>
<circle cx="454.8" cy="301.9" r="1.15" fill="#333"/>
<line x1="472.7" y1="297.3" x2="481.3" y2="297.3" stroke="#2a2a2a" stroke-width="1"/>
<circle cx="477" cy="293.5" r="1.15" fill="#333"/>
<text x="466.25" y="286.3" font-size="8.6" text-anchor="middle" textLength="84" lengthAdjust="spacingAndGlyphs">Primary BM chimerism</text>
<text x="399.35" y="323.2" font-size="9" text-anchor="middle" textLength="56" lengthAdjust="spacingAndGlyphs" transform="rotate(-90 399.35 323.2)">% of donor-derived</text>
<rect x="49.4" y="465.97" width="6" height="0.33" fill="#7788bb"/>
<circle cx="52.4" cy="435.11" r="0.9" fill="#2c3f66"/>
<line x1="52.4" y1="466.3" x2="52.4" y2="458.11" stroke="#2c3f66" stroke-width="1.1"/>
<line x1="50" y1="458.11" x2="54.8" y2="458.11" stroke="#2c3f66" stroke-width="1.1"/>
<rect x="60.7" y="453.49" width="9" height="12.81" fill="#e98b7b"/>
<circle cx="65.2" cy="415.06" r="0.9" fill="#d0304a"/>
<circle cx="65.2" cy="418.96" r="0.9" fill="#d0304a"/>
<circle cx="65.2" cy="422.85" r="0.9" fill="#d0304a"/>
<circle cx="65.2" cy="426.75" r="0.9" fill="#d0304a"/>
<line x1="65.2" y1="466.3" x2="65.2" y2="432.32" stroke="#3e3434" stroke-width="1.1"/>
<line x1="62.8" y1="432.32" x2="67.6" y2="432.32" stroke="#3e3434" stroke-width="1.1"/>
<rect x="79.6" y="465.97" width="6" height="0.33" fill="#7788bb"/>
<circle cx="82.6" cy="435.11" r="0.9" fill="#2c3f66"/>
<line x1="82.6" y1="466.3" x2="82.6" y2="458.11" stroke="#2c3f66" stroke-width="1.1"/>
<line x1="80.2" y1="458.11" x2="85" y2="458.11" stroke="#2c3f66" stroke-width="1.1"/>
<rect x="90.9" y="452.38" width="9" height="13.92" fill="#e98b7b"/>
<circle cx="95.4" cy="415.06" r="0.9" fill="#d0304a"/>
<circle cx="95.4" cy="425.08" r="0.9" fill="#d0304a"/>
<line x1="95.4" y1="466.3" x2="95.4" y2="429.26" stroke="#3e3434" stroke-width="1.1"/>
<line x1="93" y1="429.26" x2="97.8" y2="429.26" stroke="#3e3434" stroke-width="1.1"/>
<rect x="110" y="465.97" width="6" height="0.33" fill="#7788bb"/>
<circle cx="113" cy="440.68" r="0.9" fill="#2c3f66"/>
<line x1="113" y1="466.3" x2="113" y2="459.62" stroke="#2c3f66" stroke-width="1.1"/>
<line x1="110.6" y1="459.62" x2="115.4" y2="459.62" stroke="#2c3f66" stroke-width="1.1"/>
<rect x="121.1" y="456.27" width="8.8" height="10.03" fill="#e98b7b"/>
<circle cx="125.5" cy="420.63" r="0.9" fill="#d0304a"/>
<circle cx="125.5" cy="428.42" r="0.9" fill="#d0304a"/>
<circle cx="125.5" cy="435.11" r="0.9" fill="#d0304a"/>
<circle cx="125.5" cy="459.62" r="0.9" fill="#d0304a"/>
<circle cx="125.5" cy="462.96" r="0.9" fill="#d0304a"/>
<line x1="125.5" y1="466.3" x2="125.5" y2="439.56" stroke="#3e3434" stroke-width="1.1"/>
<line x1="123.1" y1="439.56" x2="127.9" y2="439.56" stroke="#3e3434" stroke-width="1.1"/>
<line x1="45.5" y1="466" x2="60" y2="466" stroke="#39628c" stroke-width="1.6"/>
<line x1="60" y1="466" x2="71" y2="466" stroke="#c83556" stroke-width="1.6"/>
<line x1="72" y1="466" x2="90" y2="466" stroke="#39628c" stroke-width="1.6"/>
<line x1="90" y1="466" x2="101" y2="466" stroke="#c83556" stroke-width="1.6"/>
<line x1="102" y1="466" x2="120" y2="466" stroke="#39628c" stroke-width="1.6"/>
<line x1="120" y1="466" x2="131" y2="466" stroke="#c83556" stroke-width="1.6"/>
<line x1="45.1" y1="409.4" x2="45.1" y2="466.9" stroke="#2a2a2a" stroke-width="1.25"/>
<line x1="44.5" y1="466.3" x2="133.2" y2="466.3" stroke="#2a2a2a" stroke-width="1.25"/>
<line x1="42.5" y1="466.3" x2="45.1" y2="466.3" stroke="#2a2a2a" stroke-width="1"/>
<text x="39.7" y="468.55" font-size="6.3" text-anchor="end">0</text>
<line x1="42.5" y1="455.16" x2="45.1" y2="455.16" stroke="#2a2a2a" stroke-width="1"/>
<text x="39.7" y="457.41" font-size="6.3" text-anchor="end">20</text>
<line x1="42.5" y1="444.02" x2="45.1" y2="444.02" stroke="#2a2a2a" stroke-width="1"/>
<text x="39.7" y="446.27" font-size="6.3" text-anchor="end">40</text>
<line x1="42.5" y1="432.88" x2="45.1" y2="432.88" stroke="#2a2a2a" stroke-width="1"/>
<text x="39.7" y="435.13" font-size="6.3" text-anchor="end">60</text>
<line x1="42.5" y1="421.74" x2="45.1" y2="421.74" stroke="#2a2a2a" stroke-width="1"/>
<text x="39.7" y="423.99" font-size="6.3" text-anchor="end">80</text>
<line x1="42.5" y1="410.6" x2="45.1" y2="410.6" stroke="#2a2a2a" stroke-width="1"/>
<text x="39.7" y="412.85" font-size="6.3" text-anchor="end">100</text>
<line x1="59.5" y1="466.3" x2="59.5" y2="468.9" stroke="#2a2a2a" stroke-width="1"/>
<line x1="89.5" y1="466.3" x2="89.5" y2="468.9" stroke="#2a2a2a" stroke-width="1"/>
<line x1="119.7" y1="466.3" x2="119.7" y2="468.9" stroke="#2a2a2a" stroke-width="1"/>
<text x="58.75" y="478.6" font-size="7" text-anchor="middle">CMP</text>
<text x="88.75" y="478.6" font-size="7" text-anchor="middle">GMP</text>
<text x="118.75" y="478.6" font-size="7" text-anchor="middle">MEP</text>
<line x1="82.6" y1="410" x2="95.7" y2="410" stroke="#2a2a2a" stroke-width="1"/>
<circle cx="87.78" cy="407.3" r="1.15" fill="#333"/>
<circle cx="90.53" cy="407.3" r="1.15" fill="#333"/>
<text x="47" y="400.3" font-size="8.6" textLength="85" lengthAdjust="spacingAndGlyphs">Primary BM chimerism</text>
<text x="23.6" y="437.3" font-size="9" text-anchor="middle" textLength="57.5" lengthAdjust="spacingAndGlyphs" transform="rotate(-90 23.6 437.3)">% of donor-derived</text>
<line x1="46.4" y1="578.62" x2="46.4" y2="573.82" stroke="#8fa5bb" stroke-width="1.15"/>
<line x1="45.4" y1="573.82" x2="47.4" y2="573.82" stroke="#8fa5bb" stroke-width="1.2"/>
<line x1="60.5" y1="578.34" x2="60.5" y2="573.82" stroke="#8fa5bb" stroke-width="1.15"/>
<line x1="59.5" y1="573.82" x2="61.5" y2="573.82" stroke="#8fa5bb" stroke-width="1.2"/>
<line x1="74.8" y1="578.62" x2="74.8" y2="574.38" stroke="#8fa5bb" stroke-width="1.15"/>
<line x1="73.8" y1="574.38" x2="75.8" y2="574.38" stroke="#8fa5bb" stroke-width="1.2"/>
<line x1="88.8" y1="578.9" x2="88.8" y2="574.38" stroke="#8fa5bb" stroke-width="1.15"/>
<line x1="87.8" y1="574.38" x2="89.8" y2="574.38" stroke="#8fa5bb" stroke-width="1.2"/>
<line x1="46.4" y1="570.2" x2="46.4" y2="551.9" stroke="#d98393" stroke-width="1.15"/>
<line x1="45.4" y1="551.9" x2="47.4" y2="551.9" stroke="#d98393" stroke-width="1.2"/>
<line x1="60.5" y1="570.43" x2="60.5" y2="550.99" stroke="#d98393" stroke-width="1.15"/>
<line x1="59.5" y1="550.99" x2="61.5" y2="550.99" stroke="#d98393" stroke-width="1.2"/>
<line x1="74.8" y1="571.22" x2="74.8" y2="552.35" stroke="#d98393" stroke-width="1.15"/>
<line x1="73.8" y1="552.35" x2="75.8" y2="552.35" stroke="#d98393" stroke-width="1.2"/>
<line x1="88.8" y1="571.22" x2="88.8" y2="553.71" stroke="#d98393" stroke-width="1.15"/>
<line x1="87.8" y1="553.71" x2="89.8" y2="553.71" stroke="#d98393" stroke-width="1.2"/>
<path d="M46.4 578.62 L60.5 578.34 L74.8 578.62 L88.8 578.9" fill="none" stroke="#7d8c9c" stroke-width="2.2" stroke-linejoin="round"/>
<circle cx="46.4" cy="578.62" r="1.1" fill="#7d8c9c"/>
<circle cx="60.5" cy="578.34" r="1.1" fill="#7d8c9c"/>
<circle cx="74.8" cy="578.62" r="1.1" fill="#7d8c9c"/>
<circle cx="88.8" cy="578.9" r="1.1" fill="#7d8c9c"/>
<path d="M46.4 570.2 L60.5 570.43 L74.8 571.22 L88.8 571.22" fill="none" stroke="#c83556" stroke-width="1.2" stroke-linejoin="round"/>
<circle cx="46.4" cy="570.2" r="1.1" fill="#c83556"/>
<circle cx="60.5" cy="570.43" r="1.1" fill="#c83556"/>
<circle cx="74.8" cy="571.22" r="1.1" fill="#c83556"/>
<circle cx="88.8" cy="571.22" r="1.1" fill="#c83556"/>
<line x1="39.4" y1="522.9" x2="39.4" y2="581.2" stroke="#2a2a2a" stroke-width="1.25"/>
<line x1="38.8" y1="580.6" x2="95.3" y2="580.6" stroke="#2a2a2a" stroke-width="1.25"/>
<line x1="36.8" y1="580.6" x2="39.4" y2="580.6" stroke="#2a2a2a" stroke-width="1"/>
<text x="34" y="582.85" font-size="6.3" text-anchor="end">0</text>
<line x1="36.8" y1="569.3" x2="39.4" y2="569.3" stroke="#2a2a2a" stroke-width="1"/>
<text x="34" y="571.55" font-size="6.3" text-anchor="end">20</text>
<line x1="36.8" y1="558" x2="39.4" y2="558" stroke="#2a2a2a" stroke-width="1"/>
<text x="34" y="560.25" font-size="6.3" text-anchor="end">40</text>
<line x1="36.8" y1="546.7" x2="39.4" y2="546.7" stroke="#2a2a2a" stroke-width="1"/>
<text x="34" y="548.95" font-size="6.3" text-anchor="end">60</text>
<line x1="36.8" y1="535.4" x2="39.4" y2="535.4" stroke="#2a2a2a" stroke-width="1"/>
<text x="34" y="537.65" font-size="6.3" text-anchor="end">80</text>
<line x1="36.8" y1="524.1" x2="39.4" y2="524.1" stroke="#2a2a2a" stroke-width="1"/>
<text x="34" y="526.35" font-size="6.3" text-anchor="end">100</text>
<line x1="46.4" y1="580.6" x2="46.4" y2="583.2" stroke="#2a2a2a" stroke-width="1"/>
<text x="46.4" y="592.6" font-size="6.6" text-anchor="middle">4</text>
<line x1="60.5" y1="580.6" x2="60.5" y2="583.2" stroke="#2a2a2a" stroke-width="1"/>
<text x="60.5" y="592.6" font-size="6.6" text-anchor="middle">8</text>
<line x1="74.8" y1="580.6" x2="74.8" y2="583.2" stroke="#2a2a2a" stroke-width="1"/>
<text x="74.8" y="592.6" font-size="6.6" text-anchor="middle">12</text>
<line x1="88.8" y1="580.6" x2="88.8" y2="583.2" stroke="#2a2a2a" stroke-width="1"/>
<text x="88.8" y="592.6" font-size="6.6" text-anchor="middle">16</text>
<text x="67.5" y="516.1" font-size="8.6" text-anchor="middle">All CD45<tspan font-size="5" dy="-3">+</tspan><tspan dy="3"> cells</tspan></text>
<text x="18.6" y="551" font-size="9" text-anchor="middle" textLength="58" lengthAdjust="spacingAndGlyphs" transform="rotate(-90 18.6 551)">% of donor-derived</text>
<line x1="148.5" y1="576.48" x2="148.5" y2="563.65" stroke="#8fa5bb" stroke-width="1.15"/>
<line x1="147.5" y1="563.65" x2="149.5" y2="563.65" stroke="#8fa5bb" stroke-width="1.2"/>
<line x1="148.5" y1="573.25" x2="148.5" y2="557.32" stroke="#d98393" stroke-width="1.15"/>
<line x1="147.5" y1="557.32" x2="149.5" y2="557.32" stroke="#d98393" stroke-width="1.2"/>
<line x1="162.6" y1="572.92" x2="162.6" y2="555.01" stroke="#d98393" stroke-width="1.15"/>
<line x1="161.6" y1="555.01" x2="163.6" y2="555.01" stroke="#d98393" stroke-width="1.2"/>
<line x1="176.7" y1="573.25" x2="176.7" y2="555.01" stroke="#d98393" stroke-width="1.15"/>
<line x1="175.7" y1="555.01" x2="177.7" y2="555.01" stroke="#d98393" stroke-width="1.2"/>
<line x1="190.9" y1="574.27" x2="190.9" y2="556.42" stroke="#d98393" stroke-width="1.15"/>
<line x1="189.9" y1="556.42" x2="191.9" y2="556.42" stroke="#d98393" stroke-width="1.2"/>
<path d="M148.5 576.48 L162.6 580.32 L176.7 580.6 L190.9 580.6" fill="none" stroke="#39628c" stroke-width="1.1" stroke-linejoin="round"/>
<circle cx="148.5" cy="576.48" r="1.1" fill="#39628c"/>
<circle cx="162.6" cy="580.32" r="1.1" fill="#39628c"/>
<circle cx="176.7" cy="580.6" r="1.1" fill="#39628c"/>
<circle cx="190.9" cy="580.6" r="1.1" fill="#39628c"/>
<path d="M148.5 573.25 L162.6 572.92 L176.7 573.25 L190.9 574.27" fill="none" stroke="#c83556" stroke-width="1.2" stroke-linejoin="round"/>
<circle cx="148.5" cy="573.25" r="1.1" fill="#c83556"/>
<circle cx="162.6" cy="572.92" r="1.1" fill="#c83556"/>
<circle cx="176.7" cy="573.25" r="1.1" fill="#c83556"/>
<circle cx="190.9" cy="574.27" r="1.1" fill="#c83556"/>
<line x1="141.5" y1="522.9" x2="141.5" y2="581.2" stroke="#2a2a2a" stroke-width="1.25"/>
<line x1="140.9" y1="580.6" x2="197.6" y2="580.6" stroke="#2a2a2a" stroke-width="1.25"/>
<line x1="138.9" y1="580.6" x2="141.5" y2="580.6" stroke="#2a2a2a" stroke-width="1"/>
<text x="136.1" y="582.85" font-size="6.3" text-anchor="end">0</text>
<line x1="138.9" y1="569.3" x2="141.5" y2="569.3" stroke="#2a2a2a" stroke-width="1"/>
<text x="136.1" y="571.55" font-size="6.3" text-anchor="end">20</text>
<line x1="138.9" y1="558" x2="141.5" y2="558" stroke="#2a2a2a" stroke-width="1"/>
<text x="136.1" y="560.25" font-size="6.3" text-anchor="end">40</text>
<line x1="138.9" y1="546.7" x2="141.5" y2="546.7" stroke="#2a2a2a" stroke-width="1"/>
<text x="136.1" y="548.95" font-size="6.3" text-anchor="end">60</text>
<line x1="138.9" y1="535.4" x2="141.5" y2="535.4" stroke="#2a2a2a" stroke-width="1"/>
<text x="136.1" y="537.65" font-size="6.3" text-anchor="end">80</text>
<line x1="138.9" y1="524.1" x2="141.5" y2="524.1" stroke="#2a2a2a" stroke-width="1"/>
<text x="136.1" y="526.35" font-size="6.3" text-anchor="end">100</text>
<line x1="148.5" y1="580.6" x2="148.5" y2="583.2" stroke="#2a2a2a" stroke-width="1"/>
<text x="148.5" y="592.6" font-size="6.6" text-anchor="middle">4</text>
<line x1="162.6" y1="580.6" x2="162.6" y2="583.2" stroke="#2a2a2a" stroke-width="1"/>
<text x="162.6" y="592.6" font-size="6.6" text-anchor="middle">8</text>
<line x1="176.7" y1="580.6" x2="176.7" y2="583.2" stroke="#2a2a2a" stroke-width="1"/>
<text x="176.7" y="592.6" font-size="6.6" text-anchor="middle">12</text>
<line x1="190.9" y1="580.6" x2="190.9" y2="583.2" stroke="#2a2a2a" stroke-width="1"/>
<text x="190.9" y="592.6" font-size="6.6" text-anchor="middle">16</text>
<text x="170" y="516.4" font-size="8.6" text-anchor="middle">Myeloid cells</text>
<text x="120.6" y="551" font-size="9" text-anchor="middle" textLength="58" lengthAdjust="spacingAndGlyphs" transform="rotate(-90 120.6 551)">% of donor-derived</text>
<line x1="249.5" y1="576.48" x2="249.5" y2="562.52" stroke="#8fa5bb" stroke-width="1.15"/>
<line x1="248.5" y1="562.52" x2="250.5" y2="562.52" stroke="#8fa5bb" stroke-width="1.2"/>
<line x1="263.6" y1="578.23" x2="263.6" y2="569.3" stroke="#8fa5bb" stroke-width="1.15"/>
<line x1="262.6" y1="569.3" x2="264.6" y2="569.3" stroke="#8fa5bb" stroke-width="1.2"/>
<line x1="277.7" y1="578.34" x2="277.7" y2="570.43" stroke="#8fa5bb" stroke-width="1.15"/>
<line x1="276.7" y1="570.43" x2="278.7" y2="570.43" stroke="#8fa5bb" stroke-width="1.2"/>
<line x1="291.6" y1="578.34" x2="291.6" y2="571.22" stroke="#8fa5bb" stroke-width="1.15"/>
<line x1="290.6" y1="571.22" x2="292.6" y2="571.22" stroke="#8fa5bb" stroke-width="1.2"/>
<line x1="249.5" y1="562.52" x2="249.5" y2="537.49" stroke="#d98393" stroke-width="1.15"/>
<line x1="248.5" y1="537.49" x2="250.5" y2="537.49" stroke="#d98393" stroke-width="1.2"/>
<line x1="263.6" y1="564.78" x2="263.6" y2="540.2" stroke="#d98393" stroke-width="1.15"/>
<line x1="262.6" y1="540.2" x2="264.6" y2="540.2" stroke="#d98393" stroke-width="1.2"/>
<line x1="277.7" y1="565.35" x2="277.7" y2="542.18" stroke="#d98393" stroke-width="1.15"/>
<line x1="276.7" y1="542.18" x2="278.7" y2="542.18" stroke="#d98393" stroke-width="1.2"/>
<line x1="291.6" y1="565.8" x2="291.6" y2="542.91" stroke="#d98393" stroke-width="1.15"/>
<line x1="290.6" y1="542.91" x2="292.6" y2="542.91" stroke="#d98393" stroke-width="1.2"/>
<path d="M249.5 576.48 L263.6 578.23 L277.7 578.34 L291.6 578.34" fill="none" stroke="#39628c" stroke-width="1.1" stroke-linejoin="round"/>
<circle cx="249.5" cy="576.48" r="1.1" fill="#39628c"/>
<circle cx="263.6" cy="578.23" r="1.1" fill="#39628c"/>
<circle cx="277.7" cy="578.34" r="1.1" fill="#39628c"/>
<circle cx="291.6" cy="578.34" r="1.1" fill="#39628c"/>
<path d="M249.5 562.52 L263.6 564.78 L277.7 565.35 L291.6 565.8" fill="none" stroke="#c83556" stroke-width="1.2" stroke-linejoin="round"/>
<circle cx="249.5" cy="562.52" r="1.1" fill="#c83556"/>
<circle cx="263.6" cy="564.78" r="1.1" fill="#c83556"/>
<circle cx="277.7" cy="565.35" r="1.1" fill="#c83556"/>
<circle cx="291.6" cy="565.8" r="1.1" fill="#c83556"/>
<line x1="242.1" y1="522.9" x2="242.1" y2="581.2" stroke="#2a2a2a" stroke-width="1.25"/>
<line x1="241.5" y1="580.6" x2="298.6" y2="580.6" stroke="#2a2a2a" stroke-width="1.25"/>
<line x1="239.5" y1="580.6" x2="242.1" y2="580.6" stroke="#2a2a2a" stroke-width="1"/>
<text x="236.7" y="582.85" font-size="6.3" text-anchor="end">0</text>
<line x1="239.5" y1="569.3" x2="242.1" y2="569.3" stroke="#2a2a2a" stroke-width="1"/>
<text x="236.7" y="571.55" font-size="6.3" text-anchor="end">20</text>
<line x1="239.5" y1="558" x2="242.1" y2="558" stroke="#2a2a2a" stroke-width="1"/>
<text x="236.7" y="560.25" font-size="6.3" text-anchor="end">40</text>
<line x1="239.5" y1="546.7" x2="242.1" y2="546.7" stroke="#2a2a2a" stroke-width="1"/>
<text x="236.7" y="548.95" font-size="6.3" text-anchor="end">60</text>
<line x1="239.5" y1="535.4" x2="242.1" y2="535.4" stroke="#2a2a2a" stroke-width="1"/>
<text x="236.7" y="537.65" font-size="6.3" text-anchor="end">80</text>
<line x1="239.5" y1="524.1" x2="242.1" y2="524.1" stroke="#2a2a2a" stroke-width="1"/>
<text x="236.7" y="526.35" font-size="6.3" text-anchor="end">100</text>
<line x1="249.5" y1="580.6" x2="249.5" y2="583.2" stroke="#2a2a2a" stroke-width="1"/>
<text x="249.5" y="592.6" font-size="6.6" text-anchor="middle">4</text>
<line x1="263.6" y1="580.6" x2="263.6" y2="583.2" stroke="#2a2a2a" stroke-width="1"/>
<text x="263.6" y="592.6" font-size="6.6" text-anchor="middle">8</text>
<line x1="277.7" y1="580.6" x2="277.7" y2="583.2" stroke="#2a2a2a" stroke-width="1"/>
<text x="277.7" y="592.6" font-size="6.6" text-anchor="middle">12</text>
<line x1="291.6" y1="580.6" x2="291.6" y2="583.2" stroke="#2a2a2a" stroke-width="1"/>
<text x="291.6" y="592.6" font-size="6.6" text-anchor="middle">16</text>
<circle cx="249.5" cy="534.8" r="1.15" fill="#333"/>
<circle cx="262.23" cy="537.2" r="1.15" fill="#333"/>
<circle cx="264.98" cy="537.2" r="1.15" fill="#333"/>
<circle cx="276.32" cy="538.9" r="1.15" fill="#333"/>
<circle cx="279.07" cy="538.9" r="1.15" fill="#333"/>
<circle cx="290.23" cy="539.5" r="1.15" fill="#333"/>
<circle cx="292.98" cy="539.5" r="1.15" fill="#333"/>
<line x1="295.5" y1="565.8" x2="295.5" y2="578.34" stroke="#2a2a2a" stroke-width="1"/>
<line x1="293" y1="565.8" x2="295.5" y2="565.8" stroke="#2a2a2a" stroke-width="1"/>
<line x1="293" y1="578.34" x2="295.5" y2="578.34" stroke="#2a2a2a" stroke-width="1"/>
<circle cx="299.3" cy="569.32" r="1.15" fill="#333"/>
<circle cx="299.3" cy="572.07" r="1.15" fill="#333"/>
<circle cx="299.3" cy="574.82" r="1.15" fill="#333"/>
<text x="270.5" y="516.4" font-size="8.6" text-anchor="middle">B cells</text>
<text x="220.6" y="551" font-size="9" text-anchor="middle" textLength="58" lengthAdjust="spacingAndGlyphs" transform="rotate(-90 220.6 551)">% of donor-derived</text>
<line x1="363.3" y1="571.75" x2="363.3" y2="544.25" stroke="#7592b3" stroke-width="1.15"/>
<line x1="362.3" y1="544.25" x2="364.3" y2="544.25" stroke="#7592b3" stroke-width="1.2"/>
<line x1="377.4" y1="573.25" x2="377.4" y2="549.9" stroke="#7592b3" stroke-width="1.15"/>
<line x1="376.4" y1="549.9" x2="378.4" y2="549.9" stroke="#7592b3" stroke-width="1.2"/>
<line x1="391.5" y1="574.57" x2="391.5" y2="557.06" stroke="#7592b3" stroke-width="1.15"/>
<line x1="390.5" y1="557.06" x2="392.5" y2="557.06" stroke="#7592b3" stroke-width="1.2"/>
<line x1="349.1" y1="580.03" x2="349.1" y2="576.46" stroke="#d98393" stroke-width="1.15"/>
<line x1="348.1" y1="576.46" x2="350.1" y2="576.46" stroke="#d98393" stroke-width="1.2"/>
<path d="M349.1 580.03 L363.3 573.82 L377.4 573.63 L391.5 574.57" fill="none" stroke="#c83556" stroke-width="1.2" stroke-linejoin="round"/>
<circle cx="349.1" cy="580.03" r="1.1" fill="#c83556"/>
<circle cx="363.3" cy="573.82" r="1.1" fill="#c83556"/>
<circle cx="377.4" cy="573.63" r="1.1" fill="#c83556"/>
<circle cx="391.5" cy="574.57" r="1.1" fill="#c83556"/>
<path d="M349.1 580.03 L363.3 571.75 L377.4 573.25 L391.5 574.57" fill="none" stroke="#24466f" stroke-width="1.1" stroke-linejoin="round"/>
<circle cx="349.1" cy="580.03" r="1.1" fill="#24466f"/>
<circle cx="363.3" cy="571.75" r="1.1" fill="#24466f"/>
<circle cx="377.4" cy="573.25" r="1.1" fill="#24466f"/>
<circle cx="391.5" cy="574.57" r="1.1" fill="#24466f"/>
<line x1="341.5" y1="522.9" x2="341.5" y2="581.2" stroke="#2a2a2a" stroke-width="1.25"/>
<line x1="340.9" y1="580.6" x2="398.3" y2="580.6" stroke="#2a2a2a" stroke-width="1.25"/>
<line x1="338.9" y1="580.6" x2="341.5" y2="580.6" stroke="#2a2a2a" stroke-width="1"/>
<text x="336.1" y="582.85" font-size="6.3" text-anchor="end">0</text>
<line x1="338.9" y1="561.77" x2="341.5" y2="561.77" stroke="#2a2a2a" stroke-width="1"/>
<text x="336.1" y="564.02" font-size="6.3" text-anchor="end">10</text>
<line x1="338.9" y1="542.93" x2="341.5" y2="542.93" stroke="#2a2a2a" stroke-width="1"/>
<text x="336.1" y="545.18" font-size="6.3" text-anchor="end">20</text>
<line x1="338.9" y1="524.1" x2="341.5" y2="524.1" stroke="#2a2a2a" stroke-width="1"/>
<text x="336.1" y="526.35" font-size="6.3" text-anchor="end">30</text>
<line x1="349.1" y1="580.6" x2="349.1" y2="583.2" stroke="#2a2a2a" stroke-width="1"/>
<text x="349.1" y="592.6" font-size="6.6" text-anchor="middle">4</text>
<line x1="363.3" y1="580.6" x2="363.3" y2="583.2" stroke="#2a2a2a" stroke-width="1"/>
<text x="363.3" y="592.6" font-size="6.6" text-anchor="middle">8</text>
<line x1="377.4" y1="580.6" x2="377.4" y2="583.2" stroke="#2a2a2a" stroke-width="1"/>
<text x="377.4" y="592.6" font-size="6.6" text-anchor="middle">12</text>
<line x1="391.5" y1="580.6" x2="391.5" y2="583.2" stroke="#2a2a2a" stroke-width="1"/>
<text x="391.5" y="592.6" font-size="6.6" text-anchor="middle">16</text>
<text x="370" y="516.4" font-size="8.6" text-anchor="middle">T cells</text>
<text x="324.35" y="551" font-size="9" text-anchor="middle" textLength="58" lengthAdjust="spacingAndGlyphs" transform="rotate(-90 324.35 551)">% of donor-derived</text>
<rect x="167.5" y="386.3" width="262.9" height="25" fill="#cbcbd0"/>
<line x1="167" y1="386.3" x2="430.9" y2="386.3" stroke="#3a3a3a" stroke-width="1.1"/>
<line x1="167" y1="411.3" x2="430.9" y2="411.3" stroke="#3a3a3a" stroke-width="1.1"/>
<line x1="167" y1="429.8" x2="430.9" y2="429.8" stroke="#3a3a3a" stroke-width="1.1"/>
<line x1="167" y1="448.2" x2="430.9" y2="448.2" stroke="#3a3a3a" stroke-width="1.1"/>
<line x1="167" y1="466.4" x2="430.9" y2="466.4" stroke="#3a3a3a" stroke-width="1.1"/>
<line x1="167" y1="484.9" x2="430.9" y2="484.9" stroke="#3a3a3a" stroke-width="1.1"/>
<line x1="167.5" y1="386.3" x2="167.5" y2="484.9" stroke="#3a3a3a" stroke-width="1.1"/>
<line x1="200.5" y1="386.3" x2="200.5" y2="484.9" stroke="#3a3a3a" stroke-width="1.1"/>
<line x1="251.4" y1="386.3" x2="251.4" y2="484.9" stroke="#3a3a3a" stroke-width="1.1"/>
<line x1="275.6" y1="386.3" x2="275.6" y2="484.9" stroke="#3a3a3a" stroke-width="1.1"/>
<line x1="314.4" y1="386.3" x2="314.4" y2="484.9" stroke="#3a3a3a" stroke-width="1.1"/>
<line x1="353.5" y1="386.3" x2="353.5" y2="484.9" stroke="#3a3a3a" stroke-width="1.1"/>
<line x1="392" y1="386.3" x2="392" y2="484.9" stroke="#3a3a3a" stroke-width="1.1"/>
<line x1="430.4" y1="386.3" x2="430.4" y2="484.9" stroke="#3a3a3a" stroke-width="1.1"/>
<text x="184" y="401.1" font-size="6.4" text-anchor="middle" font-weight="bold" stroke="#222" stroke-width="0.18">Cells</text>
<text x="225.95" y="401.1" font-size="6.4" text-anchor="middle" font-weight="bold" stroke="#222" stroke-width="0.18">Genotype</text>
<text x="263.5" y="401.1" font-size="6.4" text-anchor="middle" font-weight="bold" stroke="#222" stroke-width="0.18">Total</text>
<text x="295" y="397.2" font-size="6.4" text-anchor="middle" font-weight="bold" stroke="#222" stroke-width="0.18">Long-term</text>
<text x="295" y="404.8" font-size="6.4" text-anchor="middle" font-weight="bold" stroke="#222" stroke-width="0.18">MBT</text>
<text x="333.95" y="397.2" font-size="6.4" text-anchor="middle" font-weight="bold" stroke="#222" stroke-width="0.18">Transient</text>
<text x="333.95" y="404.8" font-size="6.4" text-anchor="middle" font-weight="bold" stroke="#222" stroke-width="0.18">MBT</text>
<text x="372.75" y="397.2" font-size="6.4" text-anchor="middle" font-weight="bold" stroke="#222" stroke-width="0.18">Transient</text>
<text x="372.75" y="404.8" font-size="6.4" text-anchor="middle" font-weight="bold" stroke="#222" stroke-width="0.18">BT</text>
<text x="411.2" y="397.2" font-size="6.4" text-anchor="middle" font-weight="bold" stroke="#222" stroke-width="0.18">No recon-</text>
<text x="411.2" y="404.8" font-size="6.4" text-anchor="middle" font-weight="bold" stroke="#222" stroke-width="0.18">stitution</text>
<text x="173" y="422.85" font-size="6.4" font-weight="bold" fill="#1a1a1a" stroke="#222" stroke-width="0.18">5 MPP</text>
<text x="206.5" y="422.45" font-size="7.2" font-style="italic" fill="#333" textLength="23" lengthAdjust="spacingAndGlyphs">Slc23a2</text>
<text x="229.9" y="419.45" font-size="3.6" font-style="italic" fill="#444" textLength="9.5" lengthAdjust="spacingAndGlyphs">FL/FL</text>
<text x="263.5" y="422.85" font-size="6.4" text-anchor="middle" fill="#333">11</text>
<text x="295" y="422.85" font-size="6.4" text-anchor="middle" fill="#333">0 (0%)</text>
<text x="333.95" y="422.85" font-size="6.4" text-anchor="middle" fill="#333">1 (9.1%)</text>
<text x="372.75" y="422.85" font-size="6.4" text-anchor="middle" fill="#333">4 (36%)</text>
<text x="411.2" y="422.85" font-size="6.4" text-anchor="middle" fill="#333">6 (55%)</text>
<text x="173" y="441.3" font-size="6.4" font-weight="bold" fill="#1a1a1a" stroke="#222" stroke-width="0.18">5 MPP</text>
<text x="206.5" y="437.8" font-size="7.2" font-style="italic" fill="#333" textLength="23" lengthAdjust="spacingAndGlyphs">Slc23a2</text>
<text x="229.9" y="434.8" font-size="3.6" font-style="italic" fill="#444" textLength="9.5" lengthAdjust="spacingAndGlyphs">FL/FL</text>
<text x="239" y="438.3" font-size="6.4" font-style="italic" fill="#444">;</text>
<text x="206.5" y="446.4" font-size="7.2" font-style="italic" fill="#333" textLength="24.5" lengthAdjust="spacingAndGlyphs">Mx1-Cre</text>
<text x="263.5" y="441.3" font-size="6.4" text-anchor="middle" fill="#333">11</text>
<text x="295" y="441.3" font-size="6.4" text-anchor="middle" fill="#333">3 (27%)</text>
<text x="333.95" y="441.3" font-size="6.4" text-anchor="middle" fill="#333">1 (9.1%)</text>
<text x="372.75" y="441.3" font-size="6.4" text-anchor="middle" fill="#333">6 (55%)</text>
<text x="411.2" y="441.3" font-size="6.4" text-anchor="middle" fill="#333">4 (36%)</text>
<text x="173" y="459.6" font-size="6.4" font-weight="bold" fill="#1a1a1a" stroke="#222" stroke-width="0.18">50 MPP</text>
<text x="206.5" y="459.2" font-size="7.2" font-style="italic" fill="#333" textLength="23" lengthAdjust="spacingAndGlyphs">Slc23a2</text>
<text x="229.9" y="456.2" font-size="3.6" font-style="italic" fill="#444" textLength="9.5" lengthAdjust="spacingAndGlyphs">FL/FL</text>
<text x="263.5" y="459.6" font-size="6.4" text-anchor="middle" fill="#333">21</text>
<text x="295" y="459.6" font-size="6.4" text-anchor="middle" fill="#333">2 (9.5%)</text>
<text x="333.95" y="459.6" font-size="6.4" text-anchor="middle" fill="#333">15 (71%)</text>
<text x="372.75" y="459.6" font-size="6.4" text-anchor="middle" fill="#333">3 (14%)</text>
<text x="411.2" y="459.6" font-size="6.4" text-anchor="middle" fill="#333">1 (4.8%)</text>
<text x="173" y="477.95" font-size="6.4" font-weight="bold" fill="#1a1a1a" stroke="#222" stroke-width="0.18">50 MPP</text>
<text x="206.5" y="474.45" font-size="7.2" font-style="italic" fill="#333" textLength="23" lengthAdjust="spacingAndGlyphs">Slc23a2</text>
<text x="229.9" y="471.45" font-size="3.6" font-style="italic" fill="#444" textLength="9.5" lengthAdjust="spacingAndGlyphs">FL/FL</text>
<text x="239" y="474.95" font-size="6.4" font-style="italic" fill="#444">;</text>
<text x="206.5" y="483.05" font-size="7.2" font-style="italic" fill="#333" textLength="24.5" lengthAdjust="spacingAndGlyphs">Mx1-Cre</text>
<text x="263.5" y="477.95" font-size="6.4" text-anchor="middle" fill="#333">20</text>
<text x="295" y="477.95" font-size="6.4" text-anchor="middle" fill="#333">11 (55%)</text>
<text x="333.95" y="477.95" font-size="6.4" text-anchor="middle" fill="#333">9 (45%)</text>
<text x="372.75" y="477.95" font-size="6.4" text-anchor="middle" fill="#333">0 (0%)</text>
<text x="411.2" y="477.95" font-size="6.4" text-anchor="middle" fill="#333">0 (0%)</text>
<rect x="18.75" y="622.5" width="283.75" height="30" fill="#cbcbd0"/>
<line x1="18.25" y1="622.5" x2="303" y2="622.5" stroke="#3a3a3a" stroke-width="1.1"/>
<line x1="18.25" y1="652.5" x2="303" y2="652.5" stroke="#3a3a3a" stroke-width="1.1"/>
<line x1="18.25" y1="671.25" x2="303" y2="671.25" stroke="#3a3a3a" stroke-width="1.1"/>
<line x1="18.25" y1="690" x2="303" y2="690" stroke="#3a3a3a" stroke-width="1.1"/>
<line x1="18.75" y1="622.5" x2="18.75" y2="690" stroke="#3a3a3a" stroke-width="1.1"/>
<line x1="51.75" y1="622.5" x2="51.75" y2="690" stroke="#3a3a3a" stroke-width="1.1"/>
<line x1="102.5" y1="622.5" x2="102.5" y2="690" stroke="#3a3a3a" stroke-width="1.1"/>
<line x1="126" y1="622.5" x2="126" y2="690" stroke="#3a3a3a" stroke-width="1.1"/>
<line x1="170.75" y1="622.5" x2="170.75" y2="690" stroke="#3a3a3a" stroke-width="1.1"/>
<line x1="214.5" y1="622.5" x2="214.5" y2="690" stroke="#3a3a3a" stroke-width="1.1"/>
<line x1="258.75" y1="622.5" x2="258.75" y2="690" stroke="#3a3a3a" stroke-width="1.1"/>
<line x1="302.5" y1="622.5" x2="302.5" y2="690" stroke="#3a3a3a" stroke-width="1.1"/>
<text x="35.25" y="639.8" font-size="6.5" text-anchor="middle" font-weight="bold" stroke="#222" stroke-width="0.18">Cells</text>
<text x="77.12" y="639.8" font-size="6.5" text-anchor="middle" font-weight="bold" stroke="#222" stroke-width="0.18">Genotype</text>
<text x="114.25" y="639.8" font-size="6.5" text-anchor="middle" font-weight="bold" stroke="#222" stroke-width="0.18">Total</text>
<text x="148.38" y="635.9" font-size="6.5" text-anchor="middle" font-weight="bold" stroke="#222" stroke-width="0.18">Long-term</text>
<text x="148.38" y="643.5" font-size="6.5" text-anchor="middle" font-weight="bold" stroke="#222" stroke-width="0.18">MBT</text>
<text x="192.62" y="635.9" font-size="6.5" text-anchor="middle" font-weight="bold" stroke="#222" stroke-width="0.18">Transient</text>
<text x="192.62" y="643.5" font-size="6.5" text-anchor="middle" font-weight="bold" stroke="#222" stroke-width="0.18">MBT</text>
<text x="236.62" y="639.8" font-size="6.5" text-anchor="middle" font-weight="bold" stroke="#222" stroke-width="0.18">Transient BT</text>
<text x="280.62" y="635.9" font-size="6.5" text-anchor="middle" font-weight="bold" stroke="#222" stroke-width="0.18">No recon-</text>
<text x="280.62" y="643.5" font-size="6.5" text-anchor="middle" font-weight="bold" stroke="#222" stroke-width="0.18">stitution</text>
<text x="24.25" y="664.17" font-size="6.5" font-weight="bold" fill="#1a1a1a" stroke="#222" stroke-width="0.18">50 MPP</text>
<text x="57.75" y="663.77" font-size="7.3" font-style="italic" fill="#333" textLength="23" lengthAdjust="spacingAndGlyphs">Slc23a2</text>
<text x="81.15" y="660.77" font-size="3.6" font-style="italic" fill="#444" textLength="9.5" lengthAdjust="spacingAndGlyphs">FL/FL</text>
<text x="114.25" y="664.17" font-size="6.5" text-anchor="middle" fill="#333">10</text>
<text x="148.38" y="664.17" font-size="6.5" text-anchor="middle" fill="#333">1 (10%)</text>
<text x="192.62" y="664.17" font-size="6.5" text-anchor="middle" fill="#333">0 (0%)</text>
<text x="236.62" y="664.17" font-size="6.5" text-anchor="middle" fill="#333">3 (30%)</text>
<text x="280.62" y="664.17" font-size="6.5" text-anchor="middle" fill="#333">6 (60%)</text>
<text x="24.25" y="682.92" font-size="6.5" font-weight="bold" fill="#1a1a1a" stroke="#222" stroke-width="0.18">50 MPP</text>
<text x="57.75" y="679.42" font-size="7.3" font-style="italic" fill="#333" textLength="23" lengthAdjust="spacingAndGlyphs">Slc23a2</text>
<text x="81.15" y="676.42" font-size="3.6" font-style="italic" fill="#444" textLength="9.5" lengthAdjust="spacingAndGlyphs">FL/FL</text>
<text x="90.25" y="679.92" font-size="6.5" font-style="italic" fill="#444">;</text>
<text x="57.75" y="688.02" font-size="7.3" font-style="italic" fill="#333" textLength="24.5" lengthAdjust="spacingAndGlyphs">Mx1-Cre</text>
<text x="114.25" y="682.92" font-size="6.5" text-anchor="middle" fill="#333">16</text>
<text x="148.38" y="682.92" font-size="6.5" text-anchor="middle" fill="#333">5 (31%)</text>
<text x="192.62" y="682.92" font-size="6.5" text-anchor="middle" fill="#333">1 (6.3%)</text>
<text x="236.62" y="682.92" font-size="6.5" text-anchor="middle" fill="#333">4 (25%)</text>
<text x="280.62" y="682.92" font-size="6.5" text-anchor="middle" fill="#333">7 (44%)</text>
</svg>
</body></html>
